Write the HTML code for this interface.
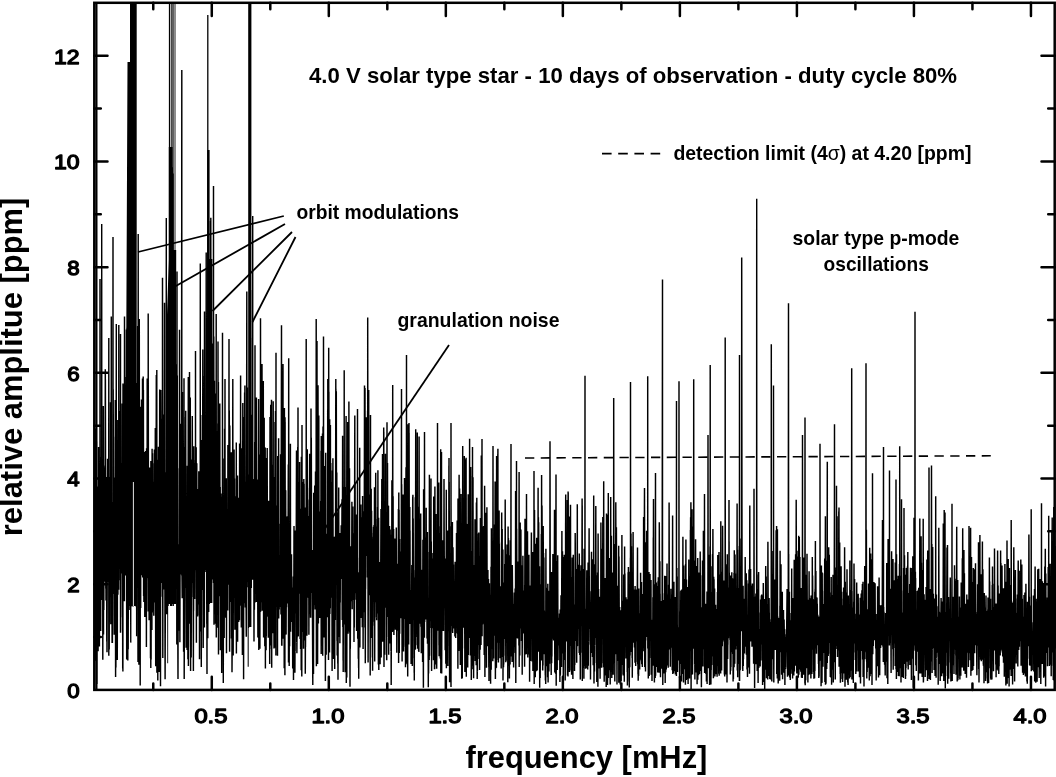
<!DOCTYPE html>
<html lang="en"><head><meta charset="utf-8"><title>Amplitude spectrum - 4.0 V solar type star</title>
<style>
html,body{margin:0;padding:0;background:#fff;}
body{width:1056px;height:777px;overflow:hidden;}
svg{display:block;}
text{font-family:"Liberation Sans",sans-serif;fill:#000;}
.b text{font-weight:bold;}
.tk text{font-size:20.5px;stroke:#000;stroke-width:1.3px;stroke-linejoin:round;}
.ann{font-size:19.3px;}
</style></head><body>
<svg width="1056" height="777" viewBox="0 0 1056 777">
<rect width="1056" height="777" fill="#fff"/>
<defs><clipPath id="cp"><rect x="94.3" y="2.8" width="961.7" height="687.1"/></clipPath></defs>
<g clip-path="url(#cp)" fill="none" stroke="#000">
<path id="spec" d="M94.8 586.2L94.9 539.4L95.1 650.9L95.2 428.4L95.4 610L95.5 506.9L95.7 660.8L95.8 525.1L95.9 582.3L96.1 551.7L96.2 577.8L96.4 441.5L96.6 661.1L96.7 660.2L96.8 684.1L97 605.4L97 607.9L97.2 486.4L97.4 537.2L97.5 512.9L97.6 570.2L97.8 543.5L97.9 591.7L97.9 589.3L98.1 651.2L98.2 518.1L98.3 563.5L98.5 447.1L98.7 582.5L98.8 507L98.9 590.9L99.2 541.4L99.4 646.5L99.7 462.9L100 540.7L100 279L100.3 572.8L100.4 557.1L100.6 599.6L100.6 597.5L100.7 631.1L100.9 485L101.1 548.2L101.2 540.4L101.4 600L101.5 457.2L101.7 559.5L101.7 224L101.8 534.5L101.8 518.4L102.1 551.4L102.4 525.2L102.5 584.8L102.7 483.9L102.8 659.7L103.1 485L103.2 505.6L103.3 405.9L103.5 634.4L103.6 465.5L103.8 609.9L103.9 577.4L104.1 581.6L104.5 578.2L104.5 581.6L104.7 467.4L105 565.4L105.3 369.3L105.4 425.9L105.4 379.6L105.8 588.5L105.9 548.9L106 600.6L106.1 555.2L106.2 559.2L106.4 477.1L106.5 575.2L106.6 571.7L106.8 641.6L106.9 611.6L107 652.2L107.2 578.5L107.4 581.8L107.6 458.8L107.9 577.2L108 546.9L108.1 551.2L108.3 535.3L108.3 541.8L108.5 498.7L108.7 549.4L108.8 338L108.8 655.7L108.9 570.6L109.1 623.5L109.1 621.5L109.2 649.5L109.4 537.7L109.5 559L109.6 523.7L109.8 579.6L110 476.9L110.2 569.8L110.2 566.1L110.3 579.1L110.5 402.2L110.8 624.2L111 461.5L111.2 531.6L111.3 316.5L111.4 578.9L111.5 556.6L111.6 587L111.9 540.7L112.1 643L112.2 641.5L112.4 643L112.6 535.6L112.7 556.7L112.8 502.1L112.9 530L113 237L113.1 593.9L113.2 389.2L113.3 438.2L113.4 436.7L113.5 527.6L113.5 525.1L113.8 569L114 477.4L114.2 634.8L114.3 531L114.5 566.1L114.9 513.6L115.1 626.8L115.3 400L115.5 612.8L115.5 610.4L115.6 677L115.7 585.3L115.9 667.4L116.3 324L116.3 545.6L116.4 486.6L116.6 540.3L116.7 475.2L116.8 639L117 504.3L117.1 596.9L117.2 594.1L117.3 659.9L117.5 517.6L117.6 563.4L117.8 420.1L117.9 594.8L118.1 484L118.2 557.4L118.3 495.8L118.5 588.7L118.6 554.5L118.7 589.8L118.8 325L118.8 543.3L118.9 536.5L119 580.2L119.3 432.8L119.6 561.8L119.7 557.8L119.9 561.8L120 410.9L120.2 568.9L120.3 426.4L120.4 564.9L120.5 334L120.5 632.8L120.6 628.6L120.6 630.3L120.9 515.5L121 531.2L121.2 478.9L121.4 544.1L121.6 463.3L121.7 573.5L121.9 508.5L121.9 540.2L122.1 403.4L122.2 522.9L122.4 432.2L122.5 617.3L122.6 576.4L122.7 668.6L122.8 550.6L122.9 671.6L123 383.5L123.1 580.9L123.3 441.4L123.5 573.7L123.7 533.7L124 594.5L124.1 550.4L124.2 553.5L124.3 474.3L124.4 601.2L124.5 316.5L124.5 559.5L124.8 376.9L125 559.1L125.2 406.5L125.4 575.4L125.5 489.1L125.7 569.6L125.7 565.9L125.9 569.6L126.4 329.6L126.7 659.6L127 450.2L127.2 512.3L127.4 327.8L127.6 532L127.7 507.3L127.8 660.6L128 175.6L128.2 649.2L128.6 440L128.8 516.4L129 419.8L129.1 609.9L129.3 465.4L129.3 487.7L129.5 206.1L129.7 502.3L129.8 468.4L130.1 565.3L130.4 378.2L130.5 539.1L130.6 530.1L130.8 642.6L130.9 641.1L130.9 642.6L131.2 253L131.3 527.5L131.4 177.9L131.6 573.6L131.7 490.9L131.8 498.1L131.9 335.8L132 378.1L132.1 371.6L132.2 427L132.3 209.7L132.6 593.7L132.8 306.8L133 606.4L133.1 486.5L133.3 520.2L133.4 514.9L133.5 520.2L133.9 295.7L134 396.6L134.2 176.4L134.4 528.2L134.4 491L134.6 586L134.7 582.8L134.9 586L135.2 260.8L135.4 546.5L135.5 424.2L135.7 599.9L135.8 528.3L135.9 533.2L136.2 383.1L136.4 636.2L136.5 498.9L136.6 510.3L136.7 428.7L136.9 549.5L137 506L137.2 535.9L137.3 479.1L137.4 584.2L137.6 326.1L138 662.1L138.2 234L138.3 611.7L138.3 609.3L138.4 659.3L138.6 542.4L138.8 646.6L138.9 614L138.9 664.7L139.1 452.3L139.2 544.3L139.3 319L139.5 610.4L139.6 497.8L139.7 651.6L139.8 544.9L140 592.7L140.1 536.8L140.2 685.5L140.3 503.7L140.4 560.3L140.5 479.5L140.7 607.9L140.8 406.8L141 508.5L141.1 414.8L141.3 557.3L141.5 399.6L141.7 575.2L141.9 445.3L142.1 558.9L142.2 539.2L142.3 559.3L142.5 378.5L142.7 577.6L143.1 454.6L143.2 484.7L143.2 376.5L143.3 491.2L143.4 390L143.6 596.1L143.8 575L143.9 602.1L144 562.5L144.3 583.9L144.6 451.9L144.8 616.9L144.9 614.7L145.1 616.9L145.2 611.6L145.3 614L145.6 451L145.8 597.7L145.9 568.7L146 584.9L146.2 455.2L146.4 647L146.6 448.2L146.7 473.5L146.8 472.6L147.1 578L147.2 378.5L147.3 447L147.5 392.7L147.6 459.7L147.7 418.2L147.8 561.6L147.9 537.5L148 578.2L148.1 574L148.2 611.5L148.2 313.5L148.3 445.9L148.3 387.3L148.5 573L148.6 524L148.8 560.3L148.9 536.5L149.1 620.2L149.2 618L149.3 620.2L149.6 467.4L149.7 618L149.8 581.9L150.1 593.5L150.3 564L150.5 658.3L150.7 568.1L150.8 668.1L150.9 461.1L151.1 659.6L151.2 518.9L151.3 553.6L151.4 526.5L151.6 603.8L151.7 595.1L151.9 629.9L152.1 448.8L152.3 612.6L152.5 453.3L152.7 583.1L152.9 579.8L153 583.1L153.4 481.8L153.8 615.8L154.1 463.2L154.2 503.7L154.4 449.6L154.6 558.7L154.8 454.4L155 602.5L155.3 427.9L155.7 666.2L155.9 525.6L156 559.1L156.3 374.9L156.3 417L156.4 394.6L156.5 556.6L156.8 370L156.9 672.8L157.1 556.3L157.2 595.7L157.4 459.8L157.8 680.6L158 464.2L158.2 666.3L158.3 558.9L158.4 562.8L158.5 446.7L158.7 645.7L159 475.5L159.1 672L159.2 486.2L159.4 597.7L159.7 389.5L159.8 585.5L159.9 416.4L160.1 485.5L160.1 468.7L160.3 530.6L160.3 496.2L160.5 686.3L160.6 493.9L160.7 548.6L160.8 390L160.9 417.3L160.9 410.5L161 574L161.2 418.8L161.4 582.9L161.6 443.2L162 558.1L162.3 429.5L162.4 596.8L162.5 277.8L162.6 389.7L162.6 370.2L162.8 658.1L163.1 414.6L163.2 453.2L163.2 446.9L163.4 574.6L163.9 499.9L164.1 589.5L164.2 565.3L164.3 569L164.5 302.8L164.7 584.5L164.8 535.8L165.1 679.3L165.4 583.9L165.4 587L165.7 472.2L165.9 548.3L166.1 506.1L166.2 555L166.3 218L166.3 555L166.4 527.8L166.6 614.3L166.7 552.4L166.8 559.9L166.9 506.4L167 523.6L167.1 407.3L167.3 516.1L167.3 498.5L167.5 572.3L167.7 470.2L167.8 501.1L167.8 487.4L168 663.3L168.3 400.7L168.5 496.5L168.7 426.7L168.9 492.7L169.3 293.3L169.6 517.7L169.7 512.3L169.8 527L170 282.7L170.3 540.1L170.4 443.5L170.5 497.1L170.6 460L170.7 612.4L170.8 436.3L170.9 559L171.1 226.9L171.3 647.5L171.6 300.1L171.9 600.8L172.2 167.3L172.4 391.4L172.5 389.6L172.6 391.5L172.7 348.4L172.9 576.3L173 173.6L173.2 623.9L173.3 297L173.5 451.4L173.6 330.2L173.7 528.4L174.1 250.1L174.2 448.4L174.4 415.6L174.5 464.9L174.8 266.1L175.1 488.2L175.2 459.8L175.3 489.3L175.4 434.8L175.6 534.2L175.7 529.3L175.9 534.2L176 444.5L176.2 509.3L176.6 364.2L176.8 644.4L177 271.5L177 415L177.1 405.5L177.2 446.3L177.3 375.5L177.5 555L177.6 546.9L177.8 637.4L177.8 634.3L178 679.1L178.1 615.5L178.2 617.7L178.4 544.2L178.6 618.4L178.7 618.4L178.8 630.7L179 552.2L179.1 556.3L179.2 468.2L179.4 534.1L179.5 329.7L179.7 570.4L179.8 556.2L179.9 642.3L180.1 534.3L180.2 552.7L180.4 492.2L180.5 531.5L180.8 423.7L181.1 544.5L181.3 450.9L181.5 574.4L181.8 70L181.8 575.6L181.9 565.1L182.2 598.2L182.4 391.9L182.7 545.5L182.8 501.1L182.9 553.3L183.1 532.3L183.2 556.6L183.3 502.3L183.4 549.4L183.5 533.2L183.6 651.8L183.7 513.1L183.9 559.4L184 378.3L184 430.2L184.1 417L184.2 679.1L184.4 615.2L184.4 618.7L184.6 548.2L184.7 587.9L184.8 447L185.2 575.3L185.3 523L185.5 565.4L185.7 410.8L185.9 581.2L186 568.1L186.1 647.7L186.2 627.5L186.2 629.4L186.4 573.6L186.6 645.9L186.7 574.2L186.8 577.7L187 574L187.1 650L187.3 465.8L187.4 569.2L187.5 563.1L187.7 587L187.8 505.1L187.9 659.3L188 523.5L188.1 530L188.3 376.9L188.4 665.9L188.5 586.4L188.6 607.7L188.7 505.4L188.9 586L189 379.8L189.3 618.3L189.3 616L189.4 618.3L189.5 372L189.8 623.8L189.9 533.4L190 585.1L190.2 430.3L190.2 448.3L190.3 397.4L190.5 647.3L190.5 639.3L190.6 671.1L190.7 566.4L190.8 595L191 501.7L191.2 657.6L191.5 538L191.6 572.7L191.8 459.5L191.9 563.1L192.3 416.1L192.7 583.1L192.8 557.6L193 596.9L193.2 594L193.4 671.1L193.5 592.7L193.6 610.8L193.8 446.3L193.9 470.9L194 463.1L194.2 569.4L194.3 502.5L194.7 598.9L194.9 534.3L195 561.7L195.4 460.1L195.5 469.9L195.5 351L195.6 570.3L195.8 553.9L195.8 554.2L195.9 484.1L196.1 562.5L196.2 447.3L196.4 642.8L196.5 540.8L196.6 574.8L196.8 463.3L197 575L197.2 506.4L197.4 616.5L197.5 614.2L197.6 616.5L197.7 612.9L197.8 615.2L198 489.1L198.4 592.1L198.5 566.3L198.6 604.4L198.8 471.2L199 566.3L199.3 491.7L199.5 659.3L199.7 481.1L199.9 582.7L200 517.8L200.2 565.1L200.3 263.5L200.3 464.1L200.4 460.5L200.6 631.5L200.7 414.9L200.9 570.8L201 509.3L201.3 667.1L201.7 478.9L201.9 590L202.1 440.1L202.3 589.5L202.4 554.2L202.6 575.4L202.8 349.4L203 420.8L203 376L203.2 647.9L203.4 483L203.6 592.6L203.7 414.4L204.1 581.6L204.2 406.9L204.4 627.6L204.5 311.4L204.8 562.5L204.9 520L205 563.6L205.2 442.3L205.3 562.4L205.5 476.8L205.8 569.9L205.9 488.1L206 572.1L206.2 252.5L206.4 511.3L206.5 435.3L206.8 623.7L206.9 621.7L207 674L207.1 504.5L207.2 510.1L207.3 470L207.5 595.2L207.7 346.9L207.8 638.3L208 479L208.1 500.5L208.2 491.6L208.3 547.8L208.5 455.1L208.6 525.9L208.8 410.1L208.9 455.7L209.1 427.2L209.3 611.9L209.5 513.7L209.6 519L209.8 400.2L210 464.6L210.2 294.3L210.3 403.6L210.4 220.9L210.7 593.5L210.8 217.7L210.8 427.8L210.9 362.1L211.1 600.8L211.5 412.5L211.6 470.5L211.8 378.7L212 501.4L212.4 396.4L212.5 579.5L212.7 343.4L212.8 548.3L213 391.1L213.1 538.2L213.3 517.1L213.4 582.9L213.5 186L213.5 535.2L213.8 336.5L214 624.8L214.4 380.7L214.6 593.3L214.7 463.8L215 589.2L215.2 542.7L215.4 614.1L215.5 611.8L215.5 623.8L215.7 393.4L215.9 552.6L216 548.4L216.2 625.9L216.2 314L216.3 637.6L216.5 504.3L216.6 605.2L216.8 492.6L217 627.7L217.2 431.5L217.5 599.5L217.8 423.5L218 604.8L218 341.5L218.2 614.2L218.3 423.6L218.3 454.6L218.4 381.9L218.5 654.4L218.6 504.3L218.7 571.5L218.8 520L219 565.9L219.1 507.8L219.2 534.6L219.3 454.2L219.5 546.8L219.6 495.3L219.7 587.9L219.8 403.5L220 596.2L220.2 487L220.4 650.3L220.5 544.5L220.6 607.4L220.7 497.3L220.8 578.4L220.9 493.4L221 566.5L221.2 496.7L221.6 640.2L221.6 638.7L221.7 673L221.8 641.1L221.9 649.2L222 612.5L222.3 621.1L222.4 619L222.4 621.1L222.5 332.8L222.5 611.1L222.6 561.8L222.8 587.5L223 458.4L223.3 683.1L223.4 573.5L223.5 577L223.7 529.7L223.9 589.1L224.1 509.9L224.2 637.9L224.3 566.5L224.4 598.6L224.6 428.7L224.8 609.5L225 379L225.1 599.8L225.5 493.5L225.7 617.7L225.9 615.5L226 617.7L226.3 478.3L226.5 653.3L226.7 509.6L227 562.9L227.1 509.6L227.4 591.1L227.6 588L227.7 610.5L227.9 445L228.1 548.2L228.2 487.7L228.4 576.7L228.6 573.2L228.8 584.7L229 339L229.1 478.4L229.3 410.6L229.6 651.7L229.8 425.4L230.3 601.9L230.4 599.2L230.6 601.9L230.8 480.3L231.1 601.7L231.3 452.2L231.4 638.5L231.6 524L231.7 549.7L231.8 497.7L232 672.2L232.1 657L232.1 658L232.3 465.3L232.5 579.5L232.8 379L233 607L233.1 605.6L233.2 655.4L233.4 503.3L233.5 553.1L233.7 460.9L233.9 585.4L234.1 449.6L234.3 597.4L234.5 478.6L234.6 578.8L234.7 575.4L234.9 629.7L234.9 627.8L235.2 629.7L235.4 562.9L235.6 584.4L235.8 496.2L235.9 617.4L236 517.4L236.1 588.1L236.3 442.6L236.4 653.6L236.6 484.6L236.8 601.7L236.9 523.5L237.2 588.2L237.5 475.6L237.6 641.7L237.8 522.2L237.9 556.3L238.1 514.4L238.3 599L238.5 497.7L238.7 621.9L238.8 561.3L239 602.5L239.1 599.8L239.2 602.5L239.3 543.1L239.4 620.3L239.6 443.5L239.7 598.1L239.9 488.8L240.1 591.1L240.3 553.5L240.4 588.2L240.6 375.4L240.9 605.7L240.9 585.7L241.1 588.8L241.2 531.5L241.3 627.6L241.6 448.2L241.8 606.7L241.9 600.3L242 603L242.1 528.4L242.4 655.1L242.5 583.1L242.6 586.3L242.8 402.9L242.9 545.1L243 541.5L243.1 568.2L243.2 416.9L243.4 589.1L243.5 469.3L243.6 679.3L243.7 517.8L244 603.2L244.2 578.2L244.4 596.2L244.6 392.4L244.7 583.7L244.8 443.3L244.9 457.6L244.9 385.4L245.1 558.4L245.2 553.6L245.3 607.5L245.4 554.4L245.5 567.9L245.7 481.7L245.9 593.8L246 590.8L246.3 636.8L246.8 291.5L246.9 550.5L247 532.5L247.2 580.9L247.2 578.3L247.3 581.6L247.6 387.6L247.9 587.3L248 494.3L248.1 554.7L248.3 524.5L248.4 666.8L248.5 601.6L248.6 604.3L248.9 474.5L249.2 570.5L249.5 532.8L249.6 570.7L249.9 530L250 572L250.5 289.9L250.6 360.7L250.6 337.4L250.7 366.2L250.7 338L250.8 498.5L251 473.9L251.1 541.5L251.2 536.9L251.3 588L251.6 414.7L251.8 561.8L251.9 557.8L252 561.8L252.3 530.6L252.4 569.5L252.5 543.6L252.6 579.8L252.7 216L252.7 535.1L252.8 529.4L253 547L253.4 502.7L253.6 555.8L253.7 479.3L254 641.5L254.3 479L254.4 609.7L254.7 442L254.9 584L255 345.2L255.1 602.4L255.3 531.3L255.4 590.2L255.6 460.8L255.8 561.6L255.9 424.9L256.2 592.5L256.4 397.5L256.6 601.9L256.7 577.7L256.8 590.2L257 479.5L257.2 571.4L257.4 503.2L257.5 578.8L257.6 559.5L257.9 637.4L257.9 630.6L258.1 632.4L258.6 398.9L258.8 650L259.1 603.3L259.2 605.9L259.3 570.4L259.4 600.9L259.7 454.5L259.9 648.7L259.9 587.6L260 600.4L260.2 558.9L260.2 611.9L260.5 318.2L260.8 611.5L260.9 554.6L261.1 600.4L261.2 550.7L261.5 602.3L261.7 520.5L261.9 586.2L262 364L262.2 597.6L262.3 584.4L262.4 610.7L262.5 608.2L262.6 610.7L262.9 458.7L263.1 579L263.3 381L263.6 637.4L263.7 567.7L263.8 571.4L263.9 503.3L264.1 605.5L264.2 417.8L264.4 570L264.5 562.1L264.6 588.7L264.7 549L264.8 646.2L265.2 447.4L265.4 668.4L265.5 563L265.7 593L265.9 536.2L266.1 650.3L266.2 615.3L266.3 636L266.5 458L266.7 602.4L266.8 487.4L267 616.4L267.2 448.1L267.4 605.4L267.5 553.6L267.6 602.3L267.8 578.5L267.9 616.8L268.1 575L268.3 637.8L268.5 500.7L268.6 608.6L268.8 518.4L269 632.7L269.3 586.1L269.4 606.7L269.5 524.5L269.7 664.1L269.8 523.4L269.9 648.9L270 416.9L270.2 645.4L270.2 609.9L270.4 612.3L270.5 442.8L270.6 461.1L270.7 404.8L270.9 612.5L271 497.4L271.1 645L271.3 412.3L271.4 460.1L271.5 399.7L271.7 667.8L271.9 537.3L272 602.7L272.3 464.8L272.4 580.8L272.6 519.5L272.8 633.2L272.9 607.2L273 609.7L273.2 401.3L273.3 606.3L273.5 477.1L273.6 573.5L273.7 478L274 648.5L274.3 487.9L274.6 647.7L274.7 567.3L274.8 618.1L275 422L275.2 635.3L275.2 620.8L275.3 622.9L275.5 411.1L275.9 655.4L276 352.8L276 598.6L276.1 534.3L276.3 606.4L276.4 510.7L276.6 570.4L276.7 534.1L277.1 578.6L277.3 505.6L277.5 655.7L277.7 455.9L278 578L278.2 546.3L278.4 604.2L278.6 438.2L278.7 618.6L278.9 582.3L279.2 609.5L279.6 555.2L279.7 607.1L279.8 558.4L280 580L280 577.6L280.1 592.3L280.2 523.8L280.4 593.5L280.6 454.3L280.7 597L280.8 595.3L281 614.5L281.5 325.2L281.7 645.7L281.8 644.4L281.9 645.7L282.2 544.6L282.4 595.3L282.5 450.3L282.8 574.2L283 364L283.2 638.8L283.3 449.3L283.5 611.9L283.9 495.6L284 583L284.1 579.7L284.2 668.3L284.3 436.1L284.4 461.9L284.4 408L284.6 609.2L284.7 450.7L284.9 675.2L285 417.3L285.1 440L285.1 422.1L285.3 597L285.5 556.5L285.6 585.6L285.7 490.2L285.9 634.6L286 632.9L286.1 634.6L286.4 562.1L286.5 607.3L286.7 517.1L286.8 593.8L286.9 523L287.1 595.5L287.3 516.3L287.5 603.4L287.7 600.7L287.9 603.4L288.3 464.4L288.5 662.6L288.7 358.2L288.8 596.9L288.9 576.8L289.2 665.9L289.3 626.8L289.4 646.4L289.5 645L289.6 646.4L289.9 548L290.1 590.9L290.4 443.8L290.6 631.8L290.8 570L290.9 585.1L290.9 584.1L291.1 601.5L291.2 581.4L291.3 601.4L291.5 554.3L291.8 622L292.1 619.9L292.3 622L292.5 587.6L292.7 668.5L292.8 613.4L292.9 667.3L293.1 589.7L293.2 605.7L293.3 576.4L293.5 680.1L293.7 600.1L293.8 602.8L294 525.9L294.2 578.5L294.4 555.8L294.6 616.1L294.7 544.2L294.9 672.7L295 650.4L295.1 651.6L295.3 530.4L295.5 605.7L295.8 531.2L296 613.4L296.5 450.4L296.7 642L296.8 641.5L296.9 653.2L297 636.1L297.1 637.7L297.2 631.3L297.2 633.1L297.4 498.8L297.5 592L297.7 446.9L297.8 599.3L298 407.5L298.2 636.4L298.2 634.7L298.3 636.4L298.5 482.1L298.6 577L298.8 531.2L298.9 585.7L299.3 499.4L299.5 577.5L299.6 461.9L299.8 593.8L299.9 508.8L300.1 638.9L300.4 512L300.6 649L300.7 529.8L300.9 613.1L301.1 604.8L301.2 670.2L301.4 456.8L301.5 628.5L301.6 626.6L301.8 676.5L302 424.9L302.1 611.9L302.2 496L302.3 615.4L302.5 489.7L302.7 591.7L302.8 482.1L303 538.5L303.1 533.9L303.3 631.9L303.4 612.2L303.5 648.7L303.8 479.1L303.9 613.1L304.1 483.8L304.3 590L304.4 528L304.6 633.7L304.7 631.9L304.8 640.5L304.8 638.9L304.9 640.5L305.1 507.5L305.3 673.7L305.4 642.9L305.5 647.1L305.6 631.1L305.7 632.8L305.8 619.2L305.9 619.7L306 617.5L306.2 619.6L306.2 339L306.3 581.1L306.3 558.7L306.5 589.6L306.8 501.4L306.9 635.8L307.1 462.4L307.2 491.9L307.3 449.3L307.7 597.8L307.9 557.7L308.1 576.5L308.2 531.6L308.4 587L308.4 583.6L308.6 586.8L308.7 515.9L308.9 634.8L309.2 499.6L309.4 573L309.5 487.8L309.6 489L309.7 453.7L309.9 596.3L310 541.1L310.3 614L310.4 611.6L310.5 617.7L310.6 615.5L310.7 617.7L311 408.4L311.1 452.6L311.1 438.7L311.2 489.5L311.3 437.7L311.7 593L312 565.2L312.1 579.7L312.2 560.5L312.8 685.1L312.9 550.1L313.2 603.2L313.3 600.5L313.5 674L313.7 492.8L313.9 583.2L314.1 573.1L314.5 577.8L314.7 485.5L314.9 605.1L315 598.5L315.2 609.6L315.5 471.4L315.7 574.4L315.8 522L315.9 605.8L316 584.5L316.1 587.7L316.2 319L316.4 666.2L316.6 405.2L316.6 439.5L316.7 389.8L317 634.9L317 341L317.1 547.3L317.2 479.5L317.5 653.8L317.5 652.7L317.6 663.9L318 385.2L318.4 623.5L318.5 586L318.6 611.9L318.8 415.4L319.1 585.7L319.3 511.5L319.7 618L319.8 615.8L320 618L320.2 532.6L320.4 592.1L320.7 501.1L320.9 600.3L321 450.7L321.2 654.1L321.3 435.9L321.5 610.7L321.7 565.2L321.9 645.5L321.9 644.2L322 645.5L322.2 475.2L322.3 611.9L322.5 433.5L322.7 655.8L322.8 604.9L322.8 615.7L323 426.5L323.2 565.5L323.3 486.5L323.5 629L323.5 336.5L323.6 598.8L323.7 534.8L323.8 592.5L323.9 548.9L324.1 637.4L324.4 532.7L324.6 634.3L324.9 466.1L325.1 600.7L325.2 519L325.4 681.1L325.7 452.8L326 602.6L326 589.3L326.2 654.7L326.3 557.8L326.4 557.8L326.6 536L326.9 574.7L327 533.8L327.2 613.8L327.3 566.7L327.4 617.2L327.5 594L327.6 596.9L327.7 409.4L327.8 419.8L327.8 378.9L328.1 584.8L328.2 528L328.5 660.1L328.7 347.8L328.8 458.3L328.9 391.7L329 539.9L329.1 511.5L329.2 583.6L329.4 557.7L329.5 652.5L329.7 419.3L329.9 614L330.1 425.1L330.3 608.3L330.4 424.9L330.6 590L330.8 463L331 584.3L331.1 544.4L331.2 570.1L331.3 565.7L331.4 597.7L331.5 481.9L331.6 573.8L331.8 488.7L332 612.9L332 610.5L332.1 671.1L332.4 470.6L332.6 607.8L332.9 458.2L333.2 605.1L333.4 549.7L333.6 658.9L333.8 568.3L333.9 610.5L334 568L334.2 587L334.4 536.8L334.5 631.6L334.6 629.8L334.7 669L334.9 557.4L335 582.4L335.2 536.4L335.4 620.1L335.8 379L335.8 449.1L335.9 388.7L336 516.1L336.3 391.2L336.6 565.6L336.8 472.6L337 640.8L337.1 596.4L337.2 655.5L337.4 512.2L337.5 578.6L337.6 525.6L337.8 663.5L337.9 643.2L338 679.7L338.4 521.4L338.6 555.7L338.7 487.5L338.9 637.1L339 560.8L339.4 602.5L339.7 532.9L339.9 643.3L340 544.2L340.2 602.5L340.4 549.4L340.5 576.5L340.7 562.3L340.9 574.1L341.2 525.2L341.2 532.4L341.3 526.2L341.5 578.9L341.5 557.9L341.7 578.1L342 499.2L342.2 620L342.3 550.8L342.4 555.9L342.6 435.8L342.8 627.1L342.9 487.6L343.1 660.4L343.2 641L343.2 672L343.4 560.6L343.5 616.2L343.6 580L343.7 607.3L343.8 487.1L344 586.5L344.1 535.8L344.2 558.3L344.2 370.2L344.3 624.4L344.5 487L344.7 609.6L345 529L345.1 672.2L345.2 652.2L345.3 653.4L345.5 487L345.7 577.1L345.8 568.6L345.9 601.6L346.1 416.1L346.3 683.1L346.5 560.7L346.8 677.6L347.1 530.9L347.3 631.8L347.4 589.1L347.5 606.3L347.7 422L347.9 557.8L348 543.5L348.1 633.8L348.3 500.1L348.6 631.4L348.7 575.8L348.8 584.8L348.9 401.5L349.1 599.3L349.5 468.3L349.8 632.8L349.9 631L350 686.8L350.2 595.3L350.3 648.7L350.8 546.3L351 586.3L351.1 572.6L351.3 601.3L351.4 588.2L351.6 597.6L351.9 501.7L352.2 609.2L352.4 520.7L352.7 599.9L352.9 506.6L353 581.5L353.2 567.6L353.3 587.8L353.4 533.2L353.6 591.5L353.8 545.9L354 642.1L354 625.6L354.3 627.5L354.8 415.5L354.9 571.4L355.1 484.2L355.3 593.3L355.6 542.3L355.8 574.7L355.9 569.5L356 599.8L356.2 514.6L356.6 631L356.8 564.8L357 623.5L357.1 579L357.2 613.6L357.4 575.9L357.4 585.9L357.5 409L357.5 575.5L357.6 557.7L357.7 638.7L357.8 573.8L357.9 616.1L358.1 572.3L358.3 658.8L358.5 641.7L358.6 668L358.7 664.9L358.7 678.8L358.9 617L359 619.2L359.1 602.3L359.2 604.9L359.3 576.1L359.5 638.7L359.7 447.7L359.9 647.6L360 568.3L360.2 606.3L360.6 548.2L360.8 618.1L360.9 504.5L361.2 578.9L361.4 517.3L361.6 610.5L361.8 539.7L362 607.7L362.1 577.2L362.3 627.3L362.6 496L362.8 614.1L363 570.2L363.1 649L363.3 572.4L363.4 576L363.5 554.4L363.6 570.8L363.7 511.3L363.9 589.2L364.1 519.9L364.2 574.9L364.5 385.4L364.6 612.3L364.8 505.5L364.9 627.6L365 388L365.3 663.2L365.5 585.7L365.6 588.8L365.8 475.7L366.1 552L366.3 417.3L366.5 519.5L366.5 509.3L366.7 556L366.8 540.9L366.9 547.9L367 508.8L367.2 545.4L367.3 477.4L367.4 577.5L367.6 410.7L367.7 439.8L367.7 317.5L368.1 662.4L368.4 558.3L368.6 562.2L368.7 389.9L368.9 582.3L369 579L369.1 595.3L369.4 507.2L369.6 575.9L369.7 550.9L369.8 588.3L370 494.5L370.2 675.5L370.3 514.8L370.4 568.1L370.5 415L370.5 580L370.9 528.8L371 597.7L371.2 488.7L371.3 638L371.6 510.7L371.7 601.3L371.8 536.7L372.1 601.4L372.2 598.2L372.4 657.6L372.5 548.2L372.6 670.8L372.8 553.6L372.9 625.8L373 601.9L373.1 621.7L373.3 532.9L373.4 533.4L373.5 526.7L373.7 575.8L373.8 547.4L373.9 587L374 524.9L374.1 602.1L374.3 563L374.3 571L374.5 487.2L374.7 661.5L374.8 547.4L375.1 602.2L375.2 593.1L375.4 596L375.7 472.7L375.9 584.7L376.1 546.7L376.4 617.6L376.6 615.4L376.6 620.2L376.9 526.4L377.1 613.5L377.4 519L377.5 576.9L377.6 507.1L377.8 610.5L377.9 470.3L378.1 612L378.2 586.9L378.4 664.4L378.6 517.8L378.8 670.1L379 563.4L379.2 647.9L379.3 612.3L379.5 631.1L379.8 562.1L380.1 664.2L380.4 596.7L380.6 599.5L381 509L381.2 657.5L381.4 567.3L381.5 636.7L381.8 479L382 584.6L382.1 546.9L382.2 612.4L382.3 597.5L382.5 600.2L382.5 454L382.6 641.8L382.7 467.1L383.1 610.1L383.3 541.1L383.5 603L383.7 427.5L383.8 491.7L383.8 431.8L384 666.9L384.2 569.8L384.3 647.9L384.4 557.4L384.6 644.4L384.7 592.9L384.8 654.8L384.9 556.9L385 570.4L385.1 515.7L385.2 607.8L385.4 453.8L385.5 602.9L385.8 514.8L386.3 592.4L386.5 532.1L386.7 660.2L386.7 635.8L386.8 637.4L387 422.3L387.2 610.1L387.3 575.2L387.4 617L387.5 463L387.7 552.6L387.8 505.3L388.1 545.3L388.2 531.3L388.4 609.6L388.5 505.7L388.7 654.8L389 544.1L389.1 565.2L389.2 531.5L389.4 635.7L389.5 526.1L389.7 643.5L389.8 614.6L389.9 617.4L390.2 529.6L390.5 621.5L390.8 534.7L391 651.1L391.1 649.9L391.2 685.1L391.5 552.6L391.6 619.2L391.9 480.3L392.2 631.9L392.5 568.1L392.6 631.4L392.7 385L392.9 602.8L393.1 496.3L393.3 624.7L393.6 529.1L393.9 635L394.1 559.1L394.2 589.4L394.4 580.1L394.6 599L394.8 538.4L395 616.1L395.2 542.8L395.4 629.7L395.5 549.4L395.8 593.7L396 567.3L396.1 598.6L396.3 527.4L396.6 613.4L396.7 611.1L396.8 652.8L397.1 574.9L397.2 598.8L397.3 575.6L397.4 605.9L397.6 563.8L398 630.6L398.1 628.7L398.2 630.6L398.4 508.9L398.6 663L398.8 492.6L398.9 637.2L399.1 509.8L399.3 652.9L399.6 539.1L399.7 633.8L399.9 584L400 617.2L400.1 615L400.3 618.2L400.4 616L400.5 618.2L400.5 615.9L400.7 618.1L401 551.5L401.2 597.6L401.5 389L401.5 569L401.7 484.3L402.1 661.5L402.2 556L402.5 617.7L402.7 607.8L402.8 613L403 494.6L403.5 651.4L403.6 582.6L403.7 646.7L403.9 533.7L404.2 618.9L404.3 563.7L404.3 570.4L404.5 478L404.7 615.4L404.8 561.7L404.8 578.4L405 480.5L405.1 574.1L405.2 559.1L405.3 601.7L405.4 595.9L405.5 667.3L405.6 541L405.7 662.7L406 467.2L406.2 572.4L406.3 514.1L406.4 604.6L406.5 355L406.5 494.3L406.6 467.5L406.7 651.5L406.9 545.8L407.1 664.2L407.3 559.5L407.5 589.7L407.6 573.4L407.7 676.6L408 424.3L408.2 541.1L408.3 527.3L408.4 594.7L408.6 445.5L408.7 644.4L408.8 560.5L408.9 610.4L409 422.9L409.1 495.9L409.1 433.1L409.4 615.8L409.6 595.7L409.6 598.5L409.8 507L409.9 575.7L410 530.5L410.2 624L410.3 622L410.4 624L410.5 619.3L410.6 621.5L410.7 600.5L410.8 609.3L411 590.1L411.1 663.9L411.4 599.9L411.5 621.7L411.8 564.9L412.3 666L412.7 496.7L412.8 514.5L412.9 494.7L413 616.5L413.2 518.5L413.4 578.7L413.5 570.1L413.7 593.2L413.8 590.2L414 658.3L414.1 621L414.2 672.7L414.3 672.1L414.3 680.6L414.5 577.4L414.7 633.3L414.9 631.6L415 650.1L415.3 497.2L415.5 649.1L415.7 429.2L415.9 645.3L416.1 555.5L416.2 637.1L416.4 588L416.5 610.9L416.6 511.3L416.8 557.9L416.9 515.7L417.1 580.9L417.3 432.6L417.5 629.7L417.6 543.8L417.7 648.7L417.8 506.8L418 622.8L418.1 610.5L418.2 612.9L418.5 551.1L418.6 650.9L418.8 550.1L418.9 652.1L419.1 436.4L419.3 597.8L419.5 539.6L419.7 607.5L419.8 600.9L419.9 622L420 621.6L420.1 623.6L420.2 540.4L420.4 596.6L420.7 513.4L420.9 626.8L421 617L421.1 619.2L421.2 608.7L421.3 653.3L421.4 569.7L421.5 620.9L421.7 598.3L421.8 625L421.9 619.8L422.2 652.4L422.5 584.3L422.6 662L422.9 539.7L423.4 687.8L423.6 489.3L423.8 545.1L423.9 523.2L424.1 587.3L424.2 580.6L424.4 637.8L424.5 432L424.7 622L424.9 556.8L425 562L425.1 537.5L425.5 614.7L425.8 548.2L426 619.4L426.2 507.8L426.3 604L426.4 586.7L426.7 606.5L426.9 598.8L427 638.6L427.1 548.5L427.3 599.7L427.4 532.1L427.5 643.7L427.7 552.1L427.8 603L428 597.7L428.3 687.2L428.5 602.1L428.6 673.6L428.9 601.9L429 640.4L429.1 607.3L429.2 660L429.4 474.7L429.5 655.8L429.7 581.8L429.8 603.9L430 544.9L430.2 621.2L430.3 597.7L430.3 615.8L430.5 520.3L430.7 605.8L431 478.6L431.1 627.9L431.3 541.6L431.6 670.9L431.7 592.1L431.9 606.6L432 552.9L432.2 628.3L432.3 563.9L432.4 624.1L432.5 559.2L432.6 613.7L432.8 558.5L432.9 572.9L433 568L433.2 606.3L433.3 587.8L433.5 660.2L433.7 496.4L433.9 636.2L434.1 522L434.3 622.2L434.4 620.1L434.5 669.3L434.6 642.8L434.7 669.1L434.9 486.5L435.1 614.1L435.2 611.8L435.3 664.5L435.7 594.8L435.8 615.2L436 514.1L436.2 623.6L436.5 587.6L436.7 668.7L437 599.8L437.1 600.3L437.3 571.1L437.5 602.1L437.5 423L437.6 630.7L437.8 543.5L437.9 607.9L438.1 538.2L438.2 594.7L438.4 562.4L438.6 611.7L438.8 482.5L439 645.3L439.1 643.9L439.1 656.3L439.3 541.2L439.4 607.8L439.5 560.2L439.6 616.4L439.8 533.3L439.9 626L440 604.5L440.1 642.4L440.2 620.5L440.3 658.5L440.4 526.2L440.5 621.3L440.7 449.2L440.8 673.2L441 611.7L441.1 623.8L441.2 606.5L441.3 669.4L441.5 452L441.7 673.6L441.8 625.1L441.9 627L442.1 603.3L442.2 630.9L442.6 540.3L442.8 622.5L442.9 586.5L443 595L443.3 583.5L443.5 631L443.7 563.5L443.8 608.2L444 479L444.4 601L444.7 592.1L444.9 600.9L445 594.7L445.2 650.3L445.3 649.1L445.3 650.3L445.5 558.4L445.8 663.8L446 587.9L446.1 629.6L446.3 489.8L446.4 668.3L446.5 621L446.6 661.4L446.8 546.7L446.9 556.7L446.9 547.5L447.1 659.7L447.4 574.9L447.6 655.3L447.7 530.4L447.9 666.1L448 626.4L448 645.9L448.2 590.5L448.4 631.2L448.7 629.4L448.8 631.2L448.9 465.7L449 491.3L449 458.1L449.1 596.7L449.2 482L449.4 606.6L449.5 526.3L449.6 682.2L449.9 553.7L450.1 624.5L450.2 591.4L450.3 614.7L450.4 572.4L450.7 645.4L450.8 632L451 687L451 423L451.1 631.5L451.1 621.6L451.3 623.6L451.5 561.5L451.6 624.7L451.8 577L451.9 609.4L452.1 558.4L452.2 626.1L452.4 522.1L452.5 621.3L452.6 555L452.7 633.1L453 547.3L453.3 598.8L453.5 564.4L453.7 611.6L453.9 581L454.1 628.5L454.2 626.6L454.3 628.5L454.4 596L454.6 627L454.7 611.4L454.9 636.6L455.1 561.8L455.3 633.6L455.4 586.5L455.7 638.1L455.8 586L456 632.9L456.1 594.4L456.3 627.4L456.5 532.9L456.6 601.4L456.8 598.7L457 622.1L457.2 520.4L457.5 633.8L457.7 599.3L457.9 668.8L458 498.6L458.2 601.1L458.7 543.8L458.8 650.9L459.1 474.7L459.4 603.4L459.6 488.6L459.8 597.3L459.9 528.1L460.1 603.3L460.2 582.3L460.3 665L460.5 531.7L460.9 647.3L461.1 494.1L461.3 601.5L461.5 525.1L461.7 678.8L461.8 641.6L461.9 655L462.1 653.9L462.3 678.2L462.4 583.7L462.5 648.4L462.7 446.1L462.9 614L463 586.5L463.1 601.1L463.3 564.4L463.5 627.7L463.7 503.7L463.9 622.4L464 558.5L464.1 617.4L464.3 456L464.6 618.6L464.7 616.4L464.9 672L464.9 649.8L465 651L465.2 578.3L465.2 612.3L465.4 468.8L465.5 581.4L465.6 459.3L465.8 574.5L465.9 491.2L466 551.8L466.1 457.8L466.3 676.8L466.4 523.8L466.6 644L466.8 524.1L466.9 572.6L467 547.7L467.1 557.5L467.3 526.8L467.6 664.4L467.7 663.6L467.7 667.5L467.9 540.2L468.1 610.2L468.2 494.3L468.4 655L468.5 544.1L468.7 622.7L468.8 601.9L468.9 638.1L469.1 511.5L469.4 614.5L469.6 438.7L469.6 497.7L469.7 477.9L469.9 606.2L470 602.4L470.2 610.5L470.3 608L470.4 655.5L470.5 507.7L470.6 527L470.7 467.1L470.8 492.7L470.8 476L471 600.5L471.1 550.9L471.3 680L471.4 619.1L471.5 628.5L471.7 626.6L471.8 632.6L471.9 607.4L472 669.2L472.1 579.2L472.3 657L472.4 634.4L472.5 665.7L472.5 447L472.6 601.7L472.6 585.8L472.8 624.8L473 477.3L473.2 632L473.3 573.1L473.6 678.3L473.8 568.8L473.9 612.1L474 565.1L474.1 619.1L474.3 594.2L474.5 655.8L474.6 601.4L474.8 606.9L475 519.2L475.2 661.1L475.3 598.1L475.3 605.6L475.5 549.6L475.6 653.4L475.7 567.5L475.9 610L476.1 607.6L476.2 665.3L476.4 502.4L476.6 616.9L476.8 497.8L477.2 678.9L477.3 670.8L477.4 671.2L477.5 565.5L477.7 600.5L477.8 595.4L477.9 659.1L478.4 533.4L478.6 602.3L478.8 532.6L478.9 644.9L479 616.9L479.1 633.7L479.2 632L479.3 635.7L479.4 592.4L479.6 669.9L479.7 555.8L479.9 639.5L480.1 591.2L480.2 649.7L480.4 518.1L480.5 606.9L480.6 577.3L480.7 579.2L480.8 521.5L481 644.9L481.1 616.1L481.2 618.3L481.3 455.4L481.4 500L481.5 480.7L481.8 621.7L482 439L482.1 636.2L482.3 526.9L482.5 624.6L482.6 597.6L483 609.2L483.2 527.1L483.4 597.6L483.6 526.1L483.8 623.7L484 549.3L484.2 654.9L484.3 562.8L484.4 619.2L484.6 485.7L484.9 677.1L485.1 601.9L485.1 605.2L485.3 528.7L485.4 620.3L485.6 512.7L485.7 611.3L485.8 569.9L486 633.9L486.1 623.1L486.2 625.1L486.4 602.9L486.5 667.8L486.6 590.7L486.7 609.7L486.9 507.3L487.2 636.3L487.4 594.7L487.6 646.3L487.7 632L487.7 634.3L487.9 569.9L488 618.1L488.1 603.7L488.3 631.8L488.5 578.9L488.8 667.1L488.9 657.5L489 680.9L489.4 583.2L489.7 644.7L490 615.4L490.1 641.6L490.3 640.1L490.4 662.8L490.5 645.9L490.6 683.8L490.7 594.8L490.9 668.8L491 566.7L491.2 669.7L491.4 528.3L491.7 648.5L491.9 562.6L492 583.4L492.2 555.2L492.4 646.8L492.7 597L492.8 661.3L493 446L493.2 620.7L493.3 590.2L493.6 658.4L493.7 597.9L493.9 627L494 552.9L494.2 620.3L494.3 615L494.4 635.7L494.6 524.5L494.7 608.4L494.9 578.8L495 620.5L495.1 481.5L495.4 678.9L495.6 617.7L495.7 635.7L495.8 601.6L495.9 668.3L496.1 599.5L496.4 667.7L496.6 456L496.8 564.2L497 497.1L497.4 642.8L497.6 503.2L497.7 545.3L497.8 454.1L497.9 510.2L497.9 448.8L498.1 660L498.3 591.5L498.4 662.4L498.5 554.3L498.7 631.8L498.8 623L498.9 643.1L499.1 510.6L499.2 560.1L499.3 543.8L499.6 635.6L499.6 632.2L499.8 640L499.9 638.4L500 658.3L500.2 612.1L500.4 630.9L500.5 629.1L500.6 651.6L500.8 586.3L500.9 640.3L501 587.5L501.2 668.6L501.3 615.3L501.4 646L501.5 542.6L501.6 550.5L501.7 512.6L501.8 562.5L501.9 543.3L502 632.2L502.2 529L502.3 635.6L502.5 627.2L502.6 655.9L502.6 654.2L502.7 657L502.9 549.5L503 680.4L503.3 582.5L503.5 667.3L503.5 638.7L503.7 664.5L503.8 630.2L503.9 655.7L504.1 615.2L504.1 619.1L504.2 599.7L504.4 625.4L504.5 615.7L504.6 638.9L504.7 563.9L505 619.9L505.2 499.4L505.4 627.5L505.6 555.2L505.8 662.3L506 636.9L506.2 660.7L506.4 586L506.5 622.2L506.7 554.3L506.8 581.6L507 544.4L507.1 630L507.2 588.1L507.5 629.4L507.7 613L507.8 682.3L507.9 597.6L508 628.1L508.1 526.4L508.3 666L508.4 538.1L508.7 599L508.9 555.2L509.4 678.6L509.6 610.2L509.7 630.9L509.9 592.2L510.1 664.4L510.3 540.3L510.5 610.9L510.6 600.9L510.8 621.7L511 444L511 611.6L511.2 576.1L511.4 656.6L511.5 606.3L511.7 637.1L511.8 606L511.9 649.1L512 633.9L512.1 662L512.3 564.9L512.8 622.1L512.8 621.3L513 635.6L513.2 618L513.3 629.9L513.4 628.4L513.6 667.4L513.8 642.2L513.9 647.1L514 604L514.2 608.1L514.3 592.5L514.6 610L514.8 607.5L515 621.3L515.1 588.6L515.3 652.7L515.4 605.2L515.5 653L515.6 491L515.8 683.1L516 552.8L516.3 638L516.4 532.5L516.5 549.9L516.5 461L516.6 636.4L516.7 528.8L517 624.6L517.1 622.6L517.2 627.8L517.3 625.9L517.5 638.6L517.8 561.4L518.1 597.3L518.1 590.5L518.3 621.9L518.4 587.2L518.6 612.8L518.8 580.6L518.9 645.6L519.1 471.9L519.2 667L519.3 594.8L519.5 611L519.7 578.7L519.8 655.4L520 557L520.1 626.8L520.2 522.5L520.4 590.9L520.4 589.7L520.5 628.4L520.7 612.5L520.7 619.2L520.9 529.5L521.2 612.9L521.4 567.1L521.5 641.1L521.6 625.4L521.8 637.1L521.9 607.1L522 617.6L522.1 609.4L522.2 674.7L522.4 565.2L522.5 605.9L522.6 593.3L522.7 625.1L522.9 555.7L523.1 617.8L523.2 609.4L523.4 633.5L523.5 605.3L523.5 606.9L523.7 590.6L523.9 624.8L524 614.1L524.1 622.1L524.3 607L524.6 666.7L524.7 584.9L524.8 588.8L525 518.8L525.2 557.7L525.3 546.3L525.4 627.6L525.6 581.9L525.8 654.6L525.9 537.3L526.1 636.2L526.2 619.6L526.3 654L526.5 494.1L526.6 607L526.7 589.2L526.9 626.8L527.1 601.6L527.2 622.5L527.5 531.3L527.8 657.6L528.1 566.6L528.3 615.8L528.3 615.6L528.6 617.8L528.9 554.8L529.1 654.6L529.2 589.8L529.4 619.7L529.5 617.5L529.6 681.8L529.9 585.4L530.1 626L530.2 601.4L530.3 631.3L530.4 629.5L530.5 661L530.7 591.2L530.9 624.2L531.4 532.4L531.7 612.2L531.9 592.1L532.1 661.4L532.3 551.9L532.5 615.6L532.6 572.1L532.9 671.1L533 551.9L533.2 623L533.3 596.1L533.4 662.9L533.5 594.2L533.6 598.6L533.7 596.8L533.9 619.8L534 471L534.2 684.1L534.3 561.3L534.4 563L534.5 510L534.9 636.5L535.2 574.5L535.3 677.3L535.4 622.3L535.6 647.3L535.8 543.7L535.9 590.1L536 566.2L536.2 671.2L536.4 599.4L536.5 643.9L536.7 537.8L536.9 614L537 571.2L537.2 670.6L537.6 595.3L537.9 624.4L538.1 487.8L538.2 615.7L538.4 517.2L538.5 651.7L538.7 522.3L538.9 639.9L539.2 567.5L539.2 568L539.3 566.9L539.4 650.2L539.5 566.3L539.7 687.7L539.8 584.2L539.9 606L540 599.2L540.2 677.9L540.4 622.6L540.5 625.7L540.7 601.8L540.8 610.8L541 584.6L541.1 609.8L541.3 533.9L541.4 660.5L541.6 475L541.8 636.1L542 505.4L542.7 670.4L542.9 556L543 665.6L543.2 526.1L543.4 592.1L543.5 553.1L543.7 654.2L543.9 557.5L544.1 622.5L544.3 610.5L544.6 621.1L544.9 619L545.3 675.2L545.4 674.7L545.4 680.4L545.6 629.1L545.7 684.1L545.9 548.7L546.1 614.5L546.3 587.7L546.5 614.2L546.7 593.5L547 666.2L547.1 598.2L547.3 633.3L547.4 614.8L547.6 677.3L547.8 583.8L548.1 682.5L548.3 626.7L548.5 661.1L548.7 590.8L548.9 671.4L549.1 597.8L549.6 663.8L549.7 652.4L549.8 653.5L550 441.2L550.3 633.7L550.5 585.7L550.7 600L550.7 599.4L550.9 619.7L551 582.9L551.2 675.1L551.4 572.1L551.5 663.3L551.6 662.5L551.7 663.3L551.8 597.6L551.9 656.4L552.1 604.3L552.2 633.8L552.4 584.6L552.6 638.8L552.9 553.9L553.1 621.8L553.3 607.6L553.4 637.7L553.5 635.5L553.6 640.5L553.7 575.7L553.9 629.3L554.1 627.4L554.2 629.3L554.5 509.7L554.8 672.5L555.1 596.6L555.2 613.7L555.3 570.1L555.6 673.7L555.7 657.7L555.8 668.8L556 474.5L556.2 685.7L556.4 610.9L556.5 655.8L556.6 640L556.7 664.8L557 560.9L557.2 669.9L557.3 642L557.4 645.4L557.7 555.3L558 660.2L558.2 631.2L558.3 633L558.5 617.9L558.7 636.5L558.9 617.8L559.1 645.5L559.3 644.1L559.4 645.5L559.5 613.4L559.7 635.3L559.7 633.6L559.9 682L559.9 675.8L560.1 676.3L560.2 609.6L560.4 674.8L560.5 653L560.6 654.1L561 595.2L561.2 634L561.2 632.4L561.5 666.9L561.9 531.1L562.1 653.4L562.2 585.6L562.3 618.6L562.5 551.2L562.7 607.6L562.9 564.2L563 627.6L563.2 606.1L563.3 689L563.5 607.4L563.6 639.5L563.7 557L563.9 636.6L564.1 566.9L564.2 614.5L564.3 554.7L564.5 660L564.7 556.4L565.2 680.5L565.4 566.9L565.5 625.8L565.6 522.7L565.6 533.6L565.7 494.6L565.8 620.4L565.9 603.7L566 635.1L566.2 538.8L566.5 641.4L566.6 591.7L566.8 613.2L567 551.3L567.1 560.3L567.3 500.1L567.3 540.3L567.4 505.2L567.5 675.5L567.8 559.8L568 676.4L568.1 491.5L568.1 501.9L568.2 493L568.5 648.8L568.7 578.8L568.9 659.6L569 526L569.3 668.1L569.4 614.1L569.5 671.9L569.7 516.6L569.9 670.6L570 583.9L570.4 645.9L570.5 504.8L570.7 644.5L570.9 600.7L571 614L571.3 577L571.6 674.7L571.8 602.5L571.9 665.7L572 635.7L572.1 637.3L572.2 557.4L572.3 626.9L572.5 578.3L572.6 615.4L572.7 580.2L572.9 678.9L573 635.4L573.1 637L573.3 554.7L573.5 625L573.6 622.9L573.8 633.1L574 610.6L574.1 623.4L574.2 618.8L574.3 634.9L574.4 633.7L574.5 671L574.7 604.4L574.8 664.9L574.9 615.3L575 623.1L575.2 533L575.4 573L575.4 572.4L575.6 615.1L575.7 582.3L575.9 632.6L576.1 594.6L576.2 641.1L576.4 569L576.7 662.7L576.8 624.2L576.9 646.8L577 630.6L577.1 643.4L577.3 504.2L577.5 646.1L577.7 581.3L577.9 620.8L578 596.5L578.3 619L578.5 610.4L578.6 628.7L578.7 564.7L578.9 619.9L579 611.6L579.2 653.1L579.3 553.4L579.5 635.2L579.6 633.5L579.7 655.1L579.8 613.2L579.9 617.8L580.1 610.2L580.3 679.6L580.6 570.8L580.7 652.8L581 565.2L581.4 626L581.6 624L581.8 626L582.1 498.6L582.2 525.4L582.2 505.6L582.3 681L582.4 577.9L582.6 637.3L582.7 598.8L582.8 621.6L583 569.2L583.2 667.9L583.3 667.2L583.3 667.9L583.6 569.1L583.9 678.7L584.1 548.8L584.3 626.7L584.4 600.8L584.5 666L584.8 548.8L584.9 615.4L585 375.8L585 643.4L585.1 626.4L585.2 641.9L585.4 622.3L585.5 668.7L585.7 620.4L586 643.8L586.1 608.7L586.3 653.7L586.8 570.2L587 668.3L587.1 612L587.3 666.1L587.4 620.2L587.5 649.6L587.6 648.3L587.7 669.5L587.8 630.2L587.9 632L588.1 562.5L588.3 665.8L588.4 636.7L588.5 644.9L588.5 641.5L588.6 641.7L588.7 610.5L588.8 618.7L589.1 528.3L589.4 625L589.7 591.3L590 628.8L590.2 626.9L590.3 644.3L590.4 639.3L590.5 679.6L590.7 602.6L590.8 623.8L591 614.9L591.2 618.5L591.5 551.8L591.8 653.1L592 626.7L592.1 637.7L592.3 559.2L592.5 657L592.6 624L592.7 642.4L593 586.3L593.2 665.3L593.3 599.1L593.6 644.2L593.7 495.5L593.8 603.9L593.8 602.6L594 683.4L594.1 667.8L594.2 668.5L594.4 564.3L594.5 671.6L594.6 643.7L594.7 645.1L594.9 574.4L595.1 638L595.4 616.6L595.5 635.1L595.8 506.1L596.1 637.7L596.2 618.8L596.5 662.9L596.7 635.1L596.8 681.9L597 604.1L597.2 637.2L597.4 575.2L597.5 623.6L597.6 572.4L597.9 686.7L598.1 533.4L598.3 624.3L598.3 620.5L598.5 662.3L598.6 589.1L598.7 668.5L599.1 622.7L599.2 641.5L599.3 634.5L599.4 636.6L599.5 625.5L599.6 639.8L599.8 596.7L600.1 678.8L600.4 602.3L600.7 658.3L600.9 522.5L601.1 628.4L601.1 621.2L601.3 641L601.4 639.4L601.6 667.8L601.8 548.7L601.9 663.2L602.1 552.7L602.3 617.8L602.4 562.4L602.6 638.9L602.8 517.1L602.9 591.9L603.2 565.9L603.5 667.3L603.7 481.2L603.9 626.5L604 614.7L604.2 681.8L604.5 591.6L604.7 675.6L605 578L605.2 674.1L605.3 637.4L605.4 645.3L605.6 593.2L605.8 642.8L606 584.2L606.2 686.9L606.5 513.6L606.6 577.8L606.7 551L606.8 626L606.9 518.2L606.9 545L607 524.4L607.1 545.6L607.2 514.8L607.5 684.9L607.6 660.5L607.7 661.4L608 586.4L608.1 663.5L608.3 493L608.4 677.9L608.6 617.7L608.8 670.3L609 630.8L609.2 652.8L609.6 558L609.8 620.8L610 582.4L610.2 684.4L610.4 620L610.5 651.4L610.7 497L610.9 640L611 622.6L611.2 639.3L611.4 535.8L611.6 671.8L611.7 630.2L611.8 678.1L612.2 572.5L612.6 643.2L612.8 631.3L612.9 649.1L613 621.5L613.2 674.8L613.4 630.4L613.6 662.7L613.7 398L613.9 574.7L614.1 564.8L614.2 638.8L614.4 543.9L614.5 639L614.7 573.1L614.8 681.5L614.9 646.9L615 648.2L615.3 572.1L615.4 645L615.5 643.6L615.6 654.3L615.8 502.3L616 616.9L616.1 575.5L616.2 619.2L616.4 527.3L617 684.5L617.3 600.9L617.4 630.8L617.6 603.4L617.8 629.8L618 585.8L618.2 622.9L618.3 593.2L618.5 661L618.7 545.8L618.8 682.7L619 556.5L619.3 636.4L619.4 634.7L619.5 666.8L619.7 606.9L619.8 662.7L620 628.5L620.2 684.6L620.5 610.2L620.7 656.1L620.8 655.1L620.9 667.8L621 620.6L621.2 681.4L621.3 620.6L621.5 654.7L621.6 630.5L621.7 665L621.9 534.9L622.1 653.3L622.4 602.7L622.6 642L622.8 600.8L623 674.3L623.1 661.3L623.2 675.6L623.4 602.7L623.5 657.1L623.7 574.6L624 625.6L624.1 610.9L624.3 681.7L624.6 546.4L624.7 626.1L624.9 573.5L625.2 640.2L625.4 626.8L625.4 628.5L625.6 605.3L625.9 658.5L626 597.3L626.2 646.5L626.4 601.8L626.5 604.7L626.6 602.7L626.7 632.8L626.9 599.2L627 641.1L627.1 639.6L627.2 672L627.3 621.7L627.4 685.5L627.5 621.9L627.7 645.1L627.8 633L627.9 642.9L628.1 572.2L628.2 645.6L628.4 567L628.5 668L628.6 614.3L628.7 636.5L628.8 612.1L629.1 681.6L629.2 673.5L629.3 687.5L629.5 606L629.6 620L629.7 596L629.8 667.2L629.9 571.7L630.1 655.6L630.4 557.7L630.5 566.7L630.5 382L630.6 635.5L630.7 596.7L630.8 652L631 533.5L631.2 636.6L631.4 546.3L631.6 629.8L631.8 581.5L631.9 637.9L632 616.1L632.1 657.9L632.2 621.8L632.3 677.8L632.4 631.7L632.6 647.5L633.1 531.9L633.3 637.2L633.5 597L633.6 642.8L633.8 589.4L634 641.3L634.3 604.4L634.7 647.6L634.9 621.1L635 662.8L635.1 586L635.3 658.4L635.4 626.6L635.6 661.8L635.6 638.9L635.7 666L635.9 607.5L636 661.9L636.1 633.3L636.2 637.1L636.3 589.4L636.5 635.6L636.6 626.4L636.7 641.4L636.8 635L636.9 636.6L637 631.8L637.1 633.6L637.5 547.4L637.7 664.2L637.9 646.5L638 674.3L638.1 652.3L638.2 680.8L638.3 664.6L638.4 675.9L638.5 629.3L638.6 675.7L638.8 588.4L639 645L639.1 613.3L639.3 639.3L639.4 618.1L639.7 669.5L639.8 640.3L639.9 661.2L640.1 644.4L640.1 650.1L640.3 633L640.4 634.7L640.6 572.8L640.8 635.1L640.9 633.7L640.9 636L641.1 625.7L641.2 659.8L641.5 581.9L641.7 664.2L641.9 619.2L642 629.8L642.2 615.3L642.3 666.9L642.5 595.2L642.6 614.2L642.7 594.1L642.9 648.3L643.1 623.3L643.3 625.3L643.4 596L643.5 600.4L643.6 516.9L643.7 543.9L643.7 524.5L643.9 651.3L644.5 488L644.7 667L644.8 608.9L644.9 639.2L645.1 597.8L645.4 668.4L645.5 665.5L645.5 671.6L645.7 584.4L645.8 640.4L646 542.3L646.1 622.2L646.3 601L646.4 631.4L646.6 530.8L646.8 626.1L646.9 579.8L647 637L647.2 599.1L647.3 625L647.6 591.2L647.7 636.1L647.7 376.2L647.8 648.5L647.9 632L648 643.8L648.1 576.5L648.3 678.6L648.4 612.6L648.5 670.3L648.7 590.3L648.9 628.4L649 572L649.2 675.9L649.4 593.6L649.6 657.9L649.8 596.1L649.9 600.7L650 573.9L650.2 634.8L650.4 605.9L650.7 641.3L651 580.1L651.2 674.7L651.3 648.6L651.4 667.3L651.6 622.4L651.7 641.5L651.8 631.2L652 680.9L652.4 619.7L652.5 656L652.6 619.9L652.7 663.8L652.9 597.3L653.1 665.8L653.1 632.2L653.2 658.9L653.3 537.5L653.4 550.7L653.5 499.1L653.7 659.2L653.8 619.9L653.9 641.6L654.1 584.2L654.4 682.4L654.6 641.6L654.9 660L654.9 659.7L655.2 678L655.5 473L655.6 675.8L655.7 655.5L655.8 656.5L656 613.6L656.2 630.9L656.3 582.5L656.5 636.8L656.6 586.1L656.8 666.9L657 595.1L657.3 648L657.5 622.5L657.7 672.4L658 581.3L658.1 659L658.3 577.3L658.5 644.2L658.6 607.7L658.8 638.9L658.9 635.7L659.1 672.7L659.3 522.2L659.5 595.1L659.6 590L659.7 663.4L659.9 561.2L660 639.4L660.1 593.7L660.2 659.3L660.4 606.1L660.5 677.3L660.6 638.3L660.7 668.5L660.9 600.9L661 624.4L661.1 608.5L661.2 623.4L661.4 611.6L661.7 668.8L661.9 638.1L662.1 643.2L662.5 279.5L662.5 617.5L662.7 593.3L662.8 684.9L663 607.5L663.3 670.4L663.5 601.2L663.6 617.5L663.7 600.1L663.9 642.3L663.9 640.8L664 673.4L664.2 610.5L664.4 658.3L664.7 575.7L665 631.2L665 628.7L665.2 682.9L665.3 622.6L665.5 633.3L665.6 629L665.7 672.2L665.9 576.1L666.1 625.3L666.2 623.3L666.3 669.6L666.4 649.6L666.5 650.8L666.7 594.4L666.8 641.2L667 563.4L667.1 665.5L667.2 611.8L667.4 639.3L667.5 614L667.6 661L667.8 614.6L668.2 667.7L668.4 594.5L668.5 642.8L668.6 584.8L668.8 642.8L668.8 637.2L668.9 638.8L669.1 502.5L669.4 639.2L669.5 604.9L669.6 649.5L669.7 633L669.8 640.2L670 598.7L670.3 666.7L670.7 599.1L670.8 602.7L670.9 588.8L671.1 647.8L671.3 616.8L671.5 626.7L671.6 623.9L671.8 646.9L671.9 602.6L672.2 670.2L672.3 594.6L672.4 614.9L672.6 515.6L672.8 674.1L672.9 621.7L673 630L673.1 625.5L673.2 657.9L673.3 656.9L673.5 673.2L673.9 581.8L674.2 669.2L674.4 614.9L674.6 626.9L674.7 614.3L674.8 671.3L675 596.9L675.4 674.5L675.8 617.4L676 645.3L676.2 606.5L676.4 676L676.5 401L676.5 656.8L676.9 568L677 633.1L677.2 576.6L677.3 668.6L677.4 650.8L677.5 672L677.7 627.3L678 635.1L678.1 630.2L678.3 660.4L678.5 659.5L678.6 660.4L678.8 634.1L678.9 642.6L679 381.2L679 598.5L679.1 591.5L679.3 637.2L679.4 633.1L679.6 677.9L680 611.4L680.2 651.4L680.3 640.5L680.5 659.3L680.8 590.6L680.9 642.5L681 632.6L681.1 663.9L681.3 621.9L681.4 676.3L681.5 676.2L681.5 681.5L681.8 589.4L681.9 645.1L682 608.7L682.2 674.1L682.5 604.7L682.7 636.8L682.9 536.7L683.1 639.4L683.3 607.3L683.5 682.4L683.8 565.5L683.9 667.8L684 625.6L684.1 669.3L684.3 585.1L684.5 629.7L684.8 596.1L684.9 666.9L685.1 578.9L685.4 684.8L685.6 564.1L685.8 646.8L685.9 539.6L686.1 677.2L686.2 658L686.3 680.1L686.5 579.6L686.7 659.2L686.9 606L687 636.7L687.3 597.7L687.5 679.3L687.6 644.8L687.7 661.3L687.8 586.9L688.1 684.1L688.2 631.6L688.4 651.5L688.5 650.3L688.6 657.2L688.8 559.5L689 630.2L689.1 586.6L689.3 676.5L689.4 650.9L689.5 678.5L689.7 593.3L689.8 651.1L690.2 576.5L690.3 638.4L690.4 529.9L690.5 544.3L690.6 517.2L690.7 633.2L690.9 502.3L691.1 688.9L691.3 560L691.5 674.7L691.7 608.6L691.8 625.6L691.9 524L692 540.2L692 509.2L692.2 629.3L692.4 621.3L692.5 674.5L692.7 608.2L692.7 619.1L692.9 526.6L693.3 648.4L693.3 647.3L693.6 648.5L693.7 379.2L693.9 645.7L694.1 607.8L694.3 633L694.5 617.6L694.6 664.5L694.8 663.7L694.9 679.5L695 646.6L695.1 647.9L695.3 560.6L695.4 588.4L695.6 539.2L695.7 668.6L695.9 621.1L696 642.3L696.2 566.1L696.4 672.5L696.8 605.1L697.1 684.2L697.3 623.6L697.4 643.8L697.7 558.1L697.8 679.7L698 575.9L698.2 627.2L698.3 588.3L698.6 675.2L698.8 631.4L698.9 638.4L699.1 572.5L699.5 674.1L699.6 662.8L699.6 666.6L699.8 592L700 623.7L700.2 551.4L700.4 642.7L700.6 575.2L700.7 671L700.9 628.2L701 653.4L701.2 610.6L701.4 687.3L701.8 607.2L702 666.3L702.2 625.4L702.4 647.9L702.5 560.6L702.8 645L702.9 643.6L703 666.5L703.1 605L703.3 628.8L703.4 530.8L703.8 634L703.9 627.2L704 649.3L704.2 629.1L704.3 635.3L704.5 494L704.6 673L704.8 641.6L705.1 650.5L705.2 627.1L705.4 666.7L705.7 603.8L705.9 674L706.1 646.2L706.2 653.4L706.3 639.6L706.4 681.4L706.5 616L706.7 639.4L707 591.6L707.1 684.1L707.3 604.3L707.6 630.2L707.7 627L707.9 647.3L708 435L708.2 668.2L708.4 639.1L708.5 649.9L708.9 554.7L709.1 637.9L709.2 592.1L709.6 684.9L709.7 629.9L709.8 666.7L710 546.4L710.2 644.2L710.2 365L710.3 636.2L710.4 592L710.9 684.5L711.1 658L711.2 669.9L711.6 592.7L711.7 665.1L711.9 566.2L712.1 632.7L712.2 567L712.4 631.3L712.5 554.2L712.7 628.6L712.9 529L713.2 656.5L713.3 650.9L713.4 678.3L713.7 576.7L713.9 596.7L714 579.3L714.2 625.5L714.3 603.6L714.4 655.6L714.6 588.4L714.9 676.4L715 612.9L715.2 646.7L715.3 645.3L715.4 646.7L715.6 604.8L715.8 674.2L715.9 609L716 646.1L716.3 610.9L716.4 672.2L716.6 643L716.7 648L717 646.7L717.1 676.8L717.4 592.1L717.6 665.8L717.8 554.9L718 614L718.1 570.9L718.3 661.3L718.4 623.5L718.7 673.8L718.8 617.6L718.9 618L719 551.9L719.2 675.7L719.3 611.7L719.4 638.5L719.6 574.6L719.7 613.8L719.9 596.2L720.1 666L720.3 576.1L720.4 620.8L720.5 610.5L720.7 673.5L720.8 521.3L721 645.8L721.2 593.7L721.4 639.9L721.5 589.9L721.6 670.6L721.8 610L721.9 613.5L722.1 571.7L722.3 646.3L722.6 525.7L722.9 632.7L723.1 592.8L723.3 640.6L723.5 593.8L723.6 629.5L723.7 580.5L724 641.8L724.2 609.5L724.4 674.6L724.6 589L724.7 676.4L724.8 644.5L725.1 646L725.2 337.5L725.3 644.1L725.4 586.2L725.6 645.2L725.8 564.2L726.1 674.6L726.3 659.6L726.4 671.9L726.5 657.5L726.6 658.4L726.8 611.8L727 682.5L727.3 554.3L727.5 659.1L727.6 658.2L727.7 659.1L727.8 643.4L727.9 644.8L728.1 607.2L728.2 633.9L728.4 609.4L728.5 638.2L728.8 587.5L728.9 629.6L729 500L729 555.2L729.1 541.5L729.2 619.5L729.3 572.8L729.6 631.5L729.8 583.2L730 640L730.1 610.2L730.3 674.5L730.4 575.4L730.7 670.7L730.9 630.4L731 666.9L731.1 640.1L731.2 652.2L731.3 644.5L731.4 645.9L731.5 596L731.7 647L731.8 572.3L732 647.4L732.1 578L732.4 635L732.4 634.7L732.7 654.1L732.9 578.5L733.1 681.4L733.2 627L733.4 678.9L733.7 605.2L733.9 630.9L734 573L734.1 667.2L734.3 550.2L734.4 625.7L734.6 584.7L734.8 663.7L735 554.5L735.2 625.1L735.4 573.5L735.5 649.5L735.6 648.3L735.7 649.5L735.9 594.6L736.1 645.3L736.3 591L736.5 645.8L736.6 588.6L736.8 639L737.1 503.4L737.3 670.4L737.4 549.7L737.7 677.3L737.8 588.1L738 664L738.1 612.8L738.2 662.1L738.3 617.3L738.5 649.5L738.6 622.7L738.6 627.5L738.7 618L738.9 652.4L739.2 545.9L739.4 681L739.5 355L739.6 681.1L739.8 565.9L739.9 633.6L740 603L740.2 670.3L740.3 602.4L740.7 624.1L741.2 538.5L741.4 612.8L741.5 610L741.6 631.2L741.7 257.5L742.1 628.3L742.4 588.2L742.6 668.7L742.7 647.4L742.8 670.9L743.1 585.8L743.3 666.1L743.4 624.3L743.5 659L743.7 598.8L743.8 615.9L743.9 611.6L744 643.9L744.1 608.4L744.3 641.8L744.4 624.4L744.5 653.5L744.7 606.4L744.8 615.2L744.9 604L745 618.2L745.2 556.9L745.5 644.8L745.6 643.4L745.6 646.8L745.8 615.7L745.9 624.8L746 622.4L746.1 640.2L746.3 573.3L746.4 654.8L746.5 630.8L746.6 632.6L746.8 580.3L747 669.6L747.1 641.9L747.3 657.2L747.3 656.2L747.5 677L747.6 617L747.8 649.4L748 614.9L748.1 667L748.5 583.4L748.8 634L749 569.4L749.2 667.9L749.3 604.1L749.5 673.8L749.8 505.4L750 630.2L750.3 596.6L750.5 641.4L750.6 569.1L750.8 637.8L750.9 585.4L751 638.7L751.1 601.8L751.2 629.7L751.4 599.4L751.5 614.2L751.6 603.5L751.7 627.7L751.8 618.9L752 646.7L752.4 583.4L752.6 627.1L752.7 607.5L752.8 645.7L752.9 596.9L753.1 637.4L753.3 619.2L753.6 663.8L753.8 651.2L753.9 652.4L754 488.8L754.2 661.5L754.5 611.8L754.6 688.1L754.8 616.4L755 659.5L755.2 627.7L755.2 633.9L755.4 597L755.5 615.2L755.6 596.4L755.8 601.1L755.9 593.5L756 664.2L756.2 618.4L756.3 664.1L756.5 612.2L756.6 631.7L756.7 198.8L756.8 653L757 574.5L757.2 671.1L757.3 589.2L757.5 651.4L757.6 589.1L757.8 629L758 624.4L758.1 682.9L758.4 626L758.4 634.2L758.6 572L758.8 668.1L758.9 636.5L759 639.2L759 638.7L759.1 646.7L759.3 629L759.4 637.3L759.6 632.9L759.8 646.3L760 645L760.2 666.6L760.3 612.6L760.4 646.7L760.6 599.6L760.8 655.9L760.8 648.7L760.9 660.5L761 637.6L761.1 644.6L761.3 595.5L761.4 639.5L761.7 594.4L761.8 628.4L762.4 595.7L762.6 685.1L762.8 612.1L763 657.7L763.3 583L763.6 682.1L763.7 650.8L763.9 668.8L764.1 610.1L764.2 622.4L764.4 599L764.6 652.5L764.6 651.4L764.7 689.6L764.9 625.9L765 637.3L765 637.2L765.1 640.9L765.2 618.1L765.4 647.9L765.4 646.6L765.5 669.8L765.7 566.1L765.9 629.4L766 596.1L766.1 608.1L766.2 576.6L766.5 678.3L766.7 627.4L766.9 651.4L766.9 650.2L767.1 668.4L767.2 636.2L767.4 642.8L767.5 603.9L767.7 679.6L767.9 541.7L768.4 669.2L768.6 622.3L768.7 661.6L768.9 612.2L769 676.1L769.1 598.1L769.2 613.5L769.3 612.7L769.4 666.5L769.6 619.3L769.8 678.9L769.9 656.1L770 675.2L770.1 665.4L770.2 666.2L770.3 622.1L770.5 679.6L770.7 654.5L770.8 665.1L771 632.5L771.2 662.7L771.3 344.2L771.3 609L771.5 583.2L771.8 681.4L772.2 574.3L772.4 638.7L772.5 613.1L772.6 620.8L772.9 550.9L773 635.7L773.1 619.9L773.2 659.3L773.4 612.4L773.5 619.4L773.5 385.5L773.6 603.3L773.6 600.4L773.8 682.5L774.2 588.2L774.4 640.6L774.7 585.8L774.9 616.2L775 579.6L775.2 649.9L775.4 624.1L775.7 639.2L776.1 530.2L776.4 640.4L776.6 526L776.7 673.9L776.9 583.6L777.1 658.2L777.2 629.3L777.3 678.5L777.4 529.3L777.6 663.1L777.8 616.4L778.2 683.4L778.4 668.9L778.5 669.5L778.7 618.2L778.8 651.1L778.9 649.9L779 679.9L779.1 617.9L779.3 680.6L779.6 629.9L779.7 680.8L779.9 605.7L780 637L780.1 550.8L780.2 635.4L780.4 588.2L780.5 652.2L780.6 620.2L780.7 629.5L781 564.3L781.1 651.3L781.3 637.5L781.4 644.6L781.5 643.2L781.6 674.7L781.8 621L781.9 659.6L782.1 603.7L782.2 623L782.3 591.8L782.6 679.3L782.7 660.2L782.8 665.2L782.9 625L783.1 666.9L783.2 622.9L783.3 624.9L783.5 609.9L783.7 652.7L783.8 642.8L783.9 672.8L784.1 619.4L784.4 645.9L784.7 629.2L784.9 685L785.1 637.3L785.5 669L785.6 667.1L785.7 667.8L786 645.1L786.1 648.9L786.3 634.3L786.5 644.2L787.1 588.9L787.5 676.8L787.6 664L787.7 664.7L788 596.3L788.2 671.6L788.5 303.2L788.6 567.3L788.7 554.1L788.9 675.5L789 631L789.1 638.5L789.4 591.7L789.7 677.5L789.9 612.9L790.3 679.9L790.4 621.2L790.5 638.8L790.7 628L790.8 668.4L791 620.2L791.3 669.5L791.4 659.9L791.5 660.8L791.7 568.6L791.9 673.7L792.1 631.1L792.2 631.8L792.3 622.2L792.4 642.4L792.5 599.1L792.6 678.6L792.8 598.1L792.9 631.3L793 628.5L793.1 646.5L793.2 642.9L793.2 650.6L793.4 612.6L793.6 655.2L793.6 641.2L793.8 675.5L793.9 622.4L794 631.8L794.2 559.8L794.4 671.4L794.5 642.9L794.6 646.6L794.8 587.1L794.9 649L795.1 600.4L795.2 641.4L795.3 580L795.5 665.7L795.6 554.3L796 644L796.2 499.7L796.4 612.1L796.4 610.1L796.6 652.8L796.6 651.7L796.8 673.5L796.8 661.8L796.9 662.7L797.1 620.2L797.2 664.9L797.3 643.8L797.4 645.2L797.7 556.5L797.9 652.4L798 550.8L798.2 677.8L798.4 673.7L798.4 674.2L798.7 535.8L798.9 674.7L799 626.8L799.1 635.8L799.3 537L799.7 630.3L799.9 556.9L800 647.1L800.2 589.4L800.3 669.6L800.4 596.7L800.8 671.8L801 626L801.1 662.6L801.3 588L801.5 677.2L801.5 677.2L801.6 677.5L801.8 632.6L801.8 634.4L802.2 610.8L802.3 677.9L802.5 435L802.6 622.7L802.6 618.3L802.7 651.5L802.9 604.7L803.1 671.3L803.4 588.2L803.6 674.8L803.7 577.7L803.9 661.3L804 557.4L804.3 669.2L804.4 634.5L804.5 656.3L804.6 655.2L804.7 671.3L804.8 649.2L804.9 683.6L805 417.5L805.2 685.3L805.4 650.5L805.5 674.7L805.6 617.1L805.7 680.2L805.9 593.6L806.2 647.1L806.3 574.8L806.6 648.1L806.7 646.8L806.8 668.3L807 553.7L807.3 623.6L807.4 603.9L807.6 663.8L807.8 649.8L807.9 682.6L808 599.8L808.2 675.3L808.4 605.6L808.6 666.5L808.7 657.2L808.8 658.2L808.9 655.1L808.9 656.2L809.1 571.2L809.4 674.5L809.5 662.8L809.6 663.6L809.9 598.3L810.1 662.5L810.2 656.4L810.3 658.9L810.5 657.9L810.6 671L810.7 604.2L810.9 678.4L811.1 595.4L811.3 633.3L811.4 602.1L811.6 640.2L811.6 629.7L811.8 666L811.8 665.3L811.9 673.9L812 595.3L812.2 649.8L812.3 557L812.5 648.7L812.6 575.5L813 636.5L813.2 599L813.3 642.8L813.4 628.9L813.6 672.1L813.7 600.3L813.9 678.7L814.4 602.6L814.6 678.2L814.8 591.7L814.9 671.1L815.1 589.1L815.2 592.4L815.4 541.1L815.5 631.7L815.6 619.7L815.7 648.6L815.9 571L816.1 637.5L816.2 604.8L816.2 607.8L816.3 597.3L816.5 653.7L816.6 598.9L816.7 629.9L817 597.4L817.2 631.9L817.3 603.7L817.4 623L817.5 622.4L817.6 645.3L817.8 614.7L817.9 635.1L818.1 617.9L818.5 663.9L818.6 618.9L818.8 678.1L818.9 616.4L819.1 676.4L819.3 622.6L819.4 648.7L819.6 638.3L819.8 660.8L819.9 650.4L820 651.1L820 443.8L820.1 629.4L820.5 622.8L820.7 658.9L820.8 580.5L821.1 686.3L821.4 565.5L821.6 683.1L821.9 590.5L822 682.8L822.2 572.5L822.3 606.4L822.4 591.1L822.6 663.6L822.9 620.8L823 666.7L823.1 603.9L823.5 630.9L823.6 615.6L823.7 653L823.8 614.1L823.9 636.3L824 632.3L824.1 642.7L824.4 573.3L824.5 640.4L824.7 558.5L824.9 682.1L825 640.1L825 667.7L825.4 516.2L825.5 684.8L825.6 591.4L825.8 666.1L825.8 665.4L826 683.7L826.1 635.8L826.2 643.3L826.5 560.7L826.7 668.9L826.9 566.4L827 631.4L827.3 461.8L827.3 663.1L827.5 603.7L827.7 636.9L827.8 602.9L828.1 655.9L828.1 654.9L828.2 655.9L828.4 613.1L828.5 653.7L828.7 547.3L828.9 633.3L829.1 581.9L829.2 614.1L829.3 554.8L829.5 643L829.8 606.5L830 639.9L830.1 627.9L830.3 676.9L830.6 597.3L830.7 642.2L830.9 592.4L831.1 677.7L831.2 576.9L831.4 667L831.5 638.7L831.6 684.8L831.7 660.5L831.8 661.3L832 602.4L832.1 631.5L832.3 595.1L832.6 669.8L832.8 635.9L832.9 650.9L833 574.8L833.3 682.4L833.5 648L833.8 649.3L833.9 645.8L834 662.2L834.1 591.4L834.2 593.6L834.4 519.5L834.4 533.8L834.5 424.2L834.6 632.5L834.8 584.1L834.8 593.4L835 567.5L835.1 646L835.2 644.7L835.3 679.5L835.4 570L835.6 634.6L836.1 595.1L836.2 646L836.4 626.5L836.5 628.6L836.5 485.8L836.6 627.4L836.7 546.5L836.9 648.9L837.1 516.3L837.3 629.8L837.4 587.5L837.5 657.1L837.7 622L838 650.4L838.2 594.8L838.6 637.9L838.8 511.6L838.9 538.5L839 507.5L839.1 666.8L839.2 638.5L839.3 646.2L839.4 619.8L839.5 656.6L839.7 542.5L839.9 648.8L840 603.7L840.2 674.1L840.3 622.6L840.4 682.7L840.6 592L840.7 639.1L840.8 595.6L840.9 633.7L841.1 566.3L841.4 648.8L841.5 647.5L841.5 648.8L841.7 591.8L841.9 673.2L842 638.8L842.1 679L842.3 605.3L842.6 681.9L842.7 670.3L842.8 678.6L842.9 651.9L843 655.8L843.1 644.6L843.2 650.8L843.4 598.8L843.5 605.7L843.6 587.4L843.8 651.8L843.9 639.3L844.1 673.4L844.2 648.8L844.3 672.8L844.6 547.2L845 686.7L845.1 671.7L845.1 676.6L845.3 581.8L845.5 639.9L845.6 631.8L845.7 678.8L846 592.6L846.2 676.9L846.3 630.7L846.5 679.7L846.7 599.1L846.9 631.6L847 569.2L847.3 650.9L847.4 629.9L847.7 682.5L847.9 637.1L848.1 685.1L848.3 595.4L848.5 664.7L848.6 635.7L848.7 672.2L848.8 657.1L848.9 660.8L849.1 627.7L849.2 673.7L849.4 609L849.6 678.5L849.9 560.5L850.1 668.1L850.1 656.2L850.2 677.1L850.3 619.8L850.6 652.3L850.7 636.6L850.8 667.8L851 589.9L851.2 655L851.3 642.8L851.5 670.7L851.7 368.2L851.9 679.6L852 591.1L852.2 617.2L852.3 609.7L852.5 679.3L852.6 662.6L852.8 663.4L852.9 655.4L853 657.7L853.2 607.5L853.3 682.9L853.4 623.1L853.6 652.5L853.7 601.8L853.8 632.4L854 563.5L854.2 640.1L854.3 617.6L854.4 643.6L854.6 579L854.7 630.1L854.9 619.9L855 639.5L855.1 613.7L855.3 660L855.4 641.3L855.5 642.8L855.7 637.8L855.8 673.9L855.9 629L856.1 670.2L856.3 631L856.5 650.2L856.7 582.5L856.9 671.4L857 620.8L857.2 643.9L857.3 635.6L857.4 637.5L857.6 623.1L857.7 650.5L857.9 619.6L858 640.3L858.2 593.7L858.6 671.4L859 621.2L859.2 631.8L859.4 630L859.5 677.3L859.7 614.5L859.9 656.6L860.2 597.7L860.4 673.2L860.4 670.6L860.5 683.4L860.9 609.5L861 631L861.2 593.4L861.5 649.6L861.6 626.6L861.7 648L861.9 590.3L862.1 651.1L862.4 583.9L862.6 659.4L862.7 621.9L862.8 625L863 581.8L863.1 677.1L863.2 650.8L863.4 672.2L863.4 671.1L863.5 675L863.7 600.6L864 686.6L864.1 646L864.3 647.3L864.5 628.4L864.5 630.5L864.7 566.1L864.9 659.3L865 583.5L865.1 652.2L865.4 569L865.5 650.6L865.7 594.4L865.7 618.1L865.9 559.9L865.9 569.8L866 363.2L866.1 643.7L866.4 529.8L866.6 661.6L866.7 619.1L866.8 678.4L867 617.1L867.2 672L867.5 617.2L867.5 617.8L867.7 609.2L867.9 636.5L868 625.9L868.3 667.8L868.5 583.5L868.7 644.8L868.8 606L869 646.9L869 646.4L869.3 680.6L869.7 547.8L870.1 676.3L870.2 644.6L870.3 651.9L870.4 640.8L870.5 659.4L870.7 553.6L870.8 673.9L871 632.9L871.2 649.5L871.3 631.8L871.4 633.6L871.6 559.3L871.7 655.2L871.9 618.6L872 684.9L872.1 637.9L872.2 639.5L872.4 582.2L872.5 582.5L872.5 473.2L872.6 637.9L872.7 636.2L872.8 654.2L873 601.6L873.3 646L873.4 637.1L873.6 638.7L873.9 581.9L874 631.1L874.3 583.1L874.6 640.3L874.8 614.9L875 636.9L875.1 583.3L875.3 638.3L875.4 616.2L875.7 648.5L876 614.1L876.2 680.4L876.5 630.6L876.7 645L876.9 625.6L877.2 666.3L877.3 639.5L877.4 649.4L877.6 586.2L877.7 643.6L877.8 642.2L877.9 643.6L878 589.1L878.2 664.7L878.3 592L878.5 677.4L878.7 623.9L878.8 663.7L879.1 577.6L879.3 654L879.4 635.6L879.5 638.9L879.5 634.3L879.7 675.2L880 618.9L880.1 629.7L880.3 605.2L880.3 608.5L880.4 606.2L880.6 648.1L880.7 631.9L880.9 633.6L881.1 609.3L881.3 643L881.4 641.5L881.6 645.3L881.8 605.1L882.2 629.3L882.5 520L882.9 646.6L882.9 645.2L883.1 646.6L883.2 611.3L883.3 662.1L883.5 447L883.5 638.5L883.7 607.1L883.8 641.9L884 611.7L884.1 631.5L884.2 628.3L884.6 664.7L884.7 653.8L884.8 654.6L884.9 647.1L885.2 675.4L885.6 613.1L885.8 645.4L886.1 621.8L886.3 644L886.4 618.8L886.5 661.8L886.7 563.1L887 678.3L887.1 646.7L887.3 647.9L887.6 583.1L887.8 684L888.1 539.1L888.3 623.7L888.4 589.1L888.6 633.8L888.7 599.9L889.1 635.7L889.3 601.9L889.4 645.5L889.5 470.5L889.5 610.8L889.6 593L889.7 633L890.1 588.7L890.3 643.2L890.7 595.8L890.9 636.1L890.9 633.6L891.1 673L891.2 630.6L891.3 633.2L891.6 551.2L891.8 625.6L892 562.1L892.8 649.3L893 558.9L893.2 669.8L893.5 603.5L893.6 647.9L894 591L894.1 638.5L894.3 607.1L894.4 621.2L894.5 580.3L894.7 641.4L894.8 597L895 643.6L895.1 598.5L895.2 665.9L895.3 562.4L895.5 659.9L895.6 608.8L895.7 612.2L895.8 596.7L895.9 629L896 479.5L896 669.2L896.2 602.4L896.4 679.1L896.5 554.2L896.7 604.9L896.8 579L896.9 647.3L897 585.5L897.1 604.5L897.2 594.7L897.4 672L897.5 612.2L897.7 665.2L897.7 655.3L897.8 656.3L898 626.8L898 631.4L898.2 575.8L898.4 676.1L898.6 597.6L898.8 619.1L899 576.5L899.2 676.2L899.5 564.1L899.7 654.5L899.7 446.2L899.8 645.9L900 575.7L900.2 640.3L900.5 613.3L900.6 668.3L900.8 621.3L901 682.5L901.1 653.7L901.2 659.3L901.5 499.3L901.7 655.7L901.8 590.6L901.9 634.8L902.1 612.5L902.5 676.9L902.7 616.2L902.8 647.7L902.9 630.5L903.1 653.6L903.2 652.5L903.4 677.9L903.6 567.9L903.8 663.3L903.9 622.9L904 645.7L904 508L904.1 664L904.1 652.2L904.2 653.4L904.5 555.3L904.7 639.9L904.8 581.6L905 648.4L905.2 574.9L905.5 678.9L905.6 663.8L905.7 676L905.9 584.4L906 668.1L906.1 574.5L906.3 629.7L906.4 568.1L906.6 661.8L906.8 629.5L907 650.1L907.4 566.6L907.6 613.6L907.8 552L908 666.2L908.1 613.5L908.2 669.4L908.4 631.3L908.5 650.6L908.7 593.1L908.9 641.4L909.1 629.8L909.2 660.6L909.4 650L909.4 651.6L909.7 584L909.9 664.9L910.2 587.7L910.3 592.8L910.5 567.8L910.7 643.5L911 572L911.4 679.9L911.5 653.4L911.6 654.5L911.8 609.4L911.9 619.7L912 568L912.2 658.8L912.3 601.9L912.6 650.7L912.8 556.3L913 631.1L913.1 566.8L913.3 687.7L913.4 668.4L913.4 669L913.6 579.6L913.8 629.3L914 517.7L914.2 610.7L914.3 586.1L914.4 604L914.5 602.9L914.6 643.3L914.8 590.7L914.9 645.5L915 311.8L915.1 648.8L915.1 647.5L915.2 650.7L915.4 571.7L915.5 610.5L915.6 578L915.8 665.3L916 610.3L916.3 671L916.5 615.4L916.8 641.1L917 639.5L917.1 645.1L917.2 591L917.4 651.8L917.6 599.5L917.8 651.5L917.8 649.2L918 650.4L918.2 589.7L918.4 680.5L918.7 587.8L918.9 666.8L919 650.2L919.1 651.4L919.3 645.9L919.5 673.6L919.5 672.5L919.6 673.1L919.8 518.6L919.9 629.5L920.1 615.7L920.2 653L920.3 636.4L920.4 658.9L920.5 589.5L920.6 664L920.7 635.7L920.9 673.4L921.1 536.2L921.3 630.8L921.4 562.7L921.6 595.6L921.7 570L921.9 671.2L922 651.9L922.2 676.9L922.3 651.8L922.5 667.6L922.7 618.1L922.9 670.6L923.2 518.7L923.4 682.4L923.5 674.4L923.5 680.5L923.9 598.6L924 641.3L924.1 594.3L924.3 651.8L924.6 599.7L924.9 640.4L925 634.3L925.2 677.1L925.3 660.5L925.4 661.4L925.5 658.6L925.6 659.5L925.8 652.1L925.9 653.3L926.1 587.1L926.2 653.3L926.4 617.3L926.5 670.2L926.7 621L926.8 637.6L926.9 559.4L927.3 652L927.4 630.9L927.5 681L927.7 550.4L927.9 630.6L928 626.5L928.1 638.1L928.3 605.7L928.6 675.6L928.7 599.7L929 651.8L929 467.5L929.1 679.1L929.3 591.5L929.5 646.4L929.6 614.9L929.7 646L929.9 588.9L930.4 680L930.5 658.1L930.6 659L930.7 612.4L930.8 620.9L930.9 618.9L931 661.5L931.2 627L931.2 629.4L931.5 465.5L931.7 634.3L931.9 543.9L932.1 673L932.2 648.5L932.3 649.6L932.7 546.9L932.9 631.5L933 618.1L933.2 648.2L933.4 593.7L933.7 635.1L933.9 601.2L934.1 669.9L934.2 612.9L934.4 644.8L934.7 598.4L934.8 657.9L934.9 656.9L935.1 676L935.2 631.5L935.3 634.1L935.4 632.4L935.6 648.7L935.7 496.2L935.8 636.5L935.9 600.1L936.1 677.7L936.1 657.1L936.2 658.1L936.4 594.4L936.8 631.2L937 606.2L937.1 652.7L937.2 619.5L937.4 648.7L937.5 616.7L937.7 645.4L937.8 617.4L938 656.8L938.1 623.1L938.2 684.8L938.3 629.6L938.4 662.6L938.5 639L938.6 658.7L938.8 527.7L939 629.5L939.1 618.3L939.2 638.8L939.3 611.8L939.4 647.5L939.5 612.5L939.7 663.9L939.8 643.8L939.9 660.1L940 653.9L940.2 681L940.4 625.8L940.5 631.5L940.6 620.6L940.7 632.6L941.1 598.1L941.4 647.9L941.5 625.6L941.7 676.3L942 606.2L942.2 673.5L942.4 601.6L942.6 641.4L942.7 636.7L942.9 672.7L943 630.5L943.1 642.3L943.3 523.5L943.5 621.8L943.6 619.4L943.8 681L944 578.9L944.1 632.3L944.2 510.1L944.6 672L944.7 621.2L944.7 623.8L944.9 593.7L944.9 598.4L945 512.5L945.3 688.4L945.5 643.2L945.6 675.9L945.7 650.1L945.8 650.5L945.9 631.6L946 665.7L946.2 612.1L946.4 652.7L946.5 632.4L946.6 639.7L947 547.5L947.2 631.7L947.2 618.4L947.3 627.8L947.5 544.9L947.7 683.7L947.8 624.7L947.9 669.9L948 632.7L948.2 665.4L948.5 597L948.7 678.7L948.9 639.5L949 662.6L949.2 634.5L949.3 641.3L949.6 617.4L949.7 640.7L950.3 577.6L950.5 635.3L950.6 622.3L950.7 673.2L950.8 672.7L950.9 681.4L951 637.1L951.1 642.2L951.4 618.5L951.6 638.7L951.7 637.1L951.8 675.7L951.9 636.3L951.9 645.7L952 503.8L952 643.6L952.1 619L952.2 681L952.4 597.2L952.5 636.9L952.7 622.1L952.7 625.5L952.9 610L953.1 664.4L953.2 647.6L953.3 665.3L953.5 596.7L953.8 661.7L953.8 657.1L954 674L954.1 652.8L954.2 654L954.5 565.2L954.7 649.6L954.8 596L955 633.7L955.2 604L955.3 648.3L955.4 580.9L955.6 634.7L955.7 595.8L955.8 655.6L955.9 651.6L956 674.8L956.1 578.8L956.3 671L956.7 526.7L957 672.5L957.1 639.1L957.2 681.5L957.4 602.4L957.5 611.4L957.7 580.1L957.9 680.2L958 636.7L958.1 678.3L958.3 616.8L958.6 648.4L959 647.1L959.2 648.4L959.4 596.5L959.7 675.8L959.8 665.9L959.9 679.5L960.2 607.4L960.4 651.9L960.6 644.6L960.8 675.8L960.9 642.8L961 657.9L961.2 582.4L961.5 638.2L961.6 621.6L961.7 640.4L961.9 630.1L961.9 637.8L962.1 595.1L962.2 667.5L962.3 558.2L962.5 624.9L962.7 528.2L962.9 638.7L963.1 562.5L963.3 647.1L963.4 617.1L963.6 656.8L963.6 655.7L963.7 670.8L963.9 550L964.2 643.5L964.4 573.3L964.6 649.9L964.7 616.8L964.9 648.5L965 643.3L965.2 674L965.5 603.8L965.8 665.8L966.2 610.8L966.5 677.7L966.6 652.2L966.6 668.6L966.8 594.4L966.9 642.6L967.1 617.6L967.2 652.6L967.3 651.4L967.4 652.6L967.7 628.9L967.8 633.1L967.9 599.6L968.1 637.8L968.3 622.5L968.4 667.1L968.5 627.7L968.6 639.4L968.8 615.3L968.9 647.5L969 526L969.1 653.3L969.3 556.4L969.4 623.6L969.5 562.5L969.6 649L969.8 591.6L969.9 634.4L970 610.6L970.1 660.3L970.6 527.8L970.9 675.7L971 617.5L971.1 656L971.3 631.2L971.3 637.1L971.5 557L971.7 637.3L971.8 581.9L971.9 671.1L972.1 626.9L972.2 641.3L972.4 603.7L972.5 648L972.7 588.7L972.9 669.9L973 598.3L973.1 665.2L973.3 567.9L973.5 665.9L973.7 581.1L973.9 652.2L974 614.1L974.1 623.6L974.3 574.8L974.4 620.6L974.5 569.2L974.7 653.2L974.9 589.7L975.1 645.2L975.2 643.8L975.3 645.2L975.5 563.3L975.7 606.5L975.7 603.9L975.9 632.8L976 623L976.3 640.4L976.5 614L976.8 669.4L976.8 668.8L976.9 675.3L977.3 611.9L977.5 643.4L977.6 584.2L977.9 645.2L978 621.4L978.2 645.7L978.5 542.3L978.7 669L978.9 625.2L979 682.6L979.2 624.9L979.3 635.8L979.4 634.2L979.5 656.7L979.6 591.1L979.7 653.4L979.9 535.1L980.1 626.4L980.4 598.9L980.6 659.8L980.6 658.9L980.7 659.2L980.9 574.3L981.1 635.1L981.1 628.9L981.3 661.3L981.5 616.1L981.6 630.4L981.7 618.1L981.8 629.9L981.9 625.6L982.1 638.5L982.4 541.5L982.5 659.7L982.6 614.6L982.8 644.5L982.9 569.3L983.3 664L983.4 663.2L983.4 665.7L983.7 605.8L984 683.3L984.3 593.1L984.5 636.3L984.8 607.6L984.9 634.1L985.1 609.9L985.3 631.7L985.5 628.7L985.6 680.9L985.8 617.4L985.8 619.9L986 595.5L986.2 659.4L986.2 658.5L986.3 659.4L986.4 643.2L986.6 672.2L986.8 610.9L987 640.5L987 639.7L987.1 641.2L987.3 628.1L987.4 678.4L987.5 668.3L987.6 683.6L987.8 609.5L987.9 634L988 597.4L988.4 644.8L988.5 624.1L988.6 683L988.8 612.1L989.1 668.3L989.4 557.5L989.6 606.6L989.7 581.6L989.9 627.3L990 623.9L990.1 625.5L990.2 622.8L990.4 647.8L990.5 598.7L990.7 678.6L990.8 654.9L990.9 660L990.9 658.8L991 679.8L991.3 610.1L991.5 643.6L991.6 642.2L991.9 679.6L992.2 585L992.3 641L992.5 566.6L992.6 645.1L992.8 583.8L992.9 634.2L993 620.1L993.2 641.4L993.3 639.9L993.5 671.3L993.7 607.1L993.8 631.5L994 617.3L994.1 646L994.2 635.7L994.3 650.4L994.5 548.6L994.8 634.3L995 628.1L995.1 632.6L995.3 613.1L995.4 650.1L995.6 603.6L995.8 664.4L996 606.7L996.1 677.2L996.3 603.4L996.4 668.5L996.6 613.5L996.7 648.1L996.9 603.6L997.1 649L997.1 642.6L997.3 669.8L997.6 550.6L997.9 639.8L998.1 585.4L998.2 670.8L998.4 613.1L998.5 640.5L998.6 614.5L998.8 674L998.9 651.3L999.1 666.3L999.4 593.4L999.5 631L999.6 609.8L999.8 649.5L999.9 626.7L1000 632.8L1000.1 610.2L1000.2 655.4L1000.4 596.7L1000.5 604.1L1000.6 550.6L1000.8 650.5L1000.9 563L1001.1 641.3L1001.2 627.7L1001.3 648.8L1001.4 627.2L1001.5 632.8L1001.7 566L1001.8 648.7L1002 565.5L1002.3 652.6L1002.4 629.9L1002.5 642.6L1002.6 636.8L1002.7 656.5L1003 625.6L1003.2 651.3L1003.3 588.3L1003.5 662.7L1003.6 627.6L1003.9 657.6L1004.2 588.3L1004.3 676.8L1004.4 605.4L1004.6 644.1L1004.7 616L1004.7 630.4L1004.9 564.1L1005.1 633.9L1005.3 599.9L1005.4 647.7L1005.6 581.8L1005.8 679.6L1005.8 677.4L1005.9 685.5L1006 673.8L1006 677.9L1006.2 651.3L1006.3 652.4L1006.4 648.6L1006.5 649.8L1006.8 645.2L1006.9 646.5L1007 540.4L1007.2 683.8L1007.3 575L1007.6 656.1L1007.7 655.1L1007.9 656.1L1008.2 558.9L1008.4 654L1008.4 635.7L1008.6 678L1008.9 573.3L1009.1 686.4L1009.4 567.9L1009.6 669.7L1009.8 586.6L1010 645.3L1010.1 609.7L1010.2 655.9L1010.4 622.8L1010.5 668.8L1010.7 585L1010.8 656.6L1011 610.6L1011.1 676L1011.2 520L1011.4 637.1L1011.6 618.2L1011.8 637.8L1011.9 636.3L1012.1 646.8L1012.3 602.8L1012.4 632.6L1012.4 631.6L1012.6 684.5L1012.7 621.6L1012.9 652.7L1013 609.7L1013.1 669.1L1013.3 601.5L1013.5 659.7L1013.8 547.3L1014.1 643.7L1014.2 614.4L1014.4 653.5L1014.5 647.7L1014.6 681.5L1014.7 660.8L1014.7 661.5L1014.9 585.8L1015.1 638.4L1015.4 569.9L1015.6 619.7L1015.7 598.6L1015.9 657L1016.1 622.9L1016.2 663.6L1016.3 613L1016.5 647.9L1016.6 629.4L1016.7 640.8L1016.9 639.2L1017 650.6L1017.1 625.6L1017.2 650.8L1017.4 594.4L1017.6 654.7L1017.7 647.7L1017.8 666.6L1018.2 560.5L1018.7 650.1L1018.9 608.5L1019 622.1L1019.2 570.8L1019.4 646.8L1019.7 595L1019.9 633.6L1020 612L1020.1 631.2L1020.2 580L1020.5 641.3L1020.8 559.4L1021.1 665.7L1021.5 634.5L1021.6 651.1L1021.8 564.4L1022 663.5L1022.3 598.8L1022.5 666.4L1022.5 665.7L1022.6 672.7L1022.7 667.6L1022.8 668.3L1022.9 637.5L1023.1 654.9L1023.2 617.5L1023.4 675L1023.6 616.7L1023.8 644.6L1024 595L1024.2 650.3L1024.3 604.8L1024.4 673.5L1024.5 642.8L1024.6 643.5L1024.7 603.3L1024.8 644.5L1024.9 592.6L1025.1 657.6L1025.2 620.7L1025.4 676.4L1025.6 609.1L1025.7 650.4L1025.9 583.7L1026.2 647.5L1026.3 627.3L1026.5 645.7L1026.6 644.4L1026.9 681.5L1027 643.2L1027.2 681.3L1027.3 665.5L1027.3 683.8L1027.5 601.8L1027.6 658.8L1027.8 605.2L1028.1 632L1028.3 623.1L1028.4 646.3L1028.6 603.4L1028.7 622.8L1028.9 534.4L1029.2 633.5L1029.4 596.8L1029.6 664.9L1029.8 605.5L1030 665.7L1030.2 631.8L1030.3 647.3L1030.4 642.3L1030.6 657.1L1030.7 644L1030.7 647.2L1030.9 635.1L1031 658.7L1031.1 635.9L1031.2 637.6L1031.2 509.2L1031.3 671.2L1031.5 634.7L1031.7 655.8L1031.8 637.8L1031.9 657.9L1032 643.9L1032.2 670.2L1032.3 631.9L1032.6 640.4L1032.9 622.2L1033.1 643.2L1033.2 638.1L1033.2 645L1033.4 595.6L1033.6 653.9L1033.7 652.8L1033.8 671.5L1034 615.7L1034.3 652.9L1034.5 588.9L1034.7 681.6L1034.8 623.2L1034.9 637.5L1035.1 566.4L1035.3 640.7L1035.5 635.5L1035.5 636.6L1035.7 602.1L1035.8 682.8L1036.1 598.7L1036.3 641.4L1036.4 601.6L1036.5 670.1L1036.7 603L1036.9 653.5L1037 650.8L1037.1 681.7L1037.2 661.7L1037.2 661.8L1037.4 622.6L1037.5 626.7L1037.8 569.3L1038.2 667.3L1038.4 595.9L1038.5 607.3L1038.7 568.8L1038.9 641.5L1039 630.1L1039.2 677.9L1039.5 634.6L1039.9 645.4L1040.2 578.9L1040.4 586.7L1040.5 586.6L1040.8 683.9L1041 634.2L1041.2 641L1041.4 633.7L1041.4 643.5L1041.5 503.2L1041.5 656.8L1041.6 654.3L1041.7 654.5L1041.8 610.2L1042 644.8L1042.1 636.9L1042.2 664L1042.4 581.2L1042.6 636.6L1042.7 636.1L1042.8 637.7L1043 587.7L1043.1 640.7L1043.2 623.4L1043.4 647.2L1043.5 582.9L1043.7 677.8L1043.8 602.8L1044 638.5L1044 634.9L1044.3 676.4L1044.5 614.6L1044.5 618.7L1044.8 566.5L1045 639.1L1045.3 548.7L1045.6 686.6L1045.8 573.5L1046.1 642.6L1046.3 641.1L1046.4 642.6L1046.6 610.1L1046.7 641.2L1046.8 620.9L1047 653.1L1047.4 597.4L1047.5 666.2L1047.7 624.1L1047.8 642.2L1047.9 635.3L1048 643.6L1048.2 567.1L1048.3 631.4L1048.4 601.9L1048.5 637.6L1048.6 622.7L1048.7 624.9L1048.7 515.8L1048.8 647.6L1049 610.3L1049.1 631.5L1049.3 612.2L1049.4 665.9L1049.6 602L1049.7 630.9L1050.2 563.8L1050.4 664.7L1050.8 582.5L1051 655.6L1051.1 628.4L1051.2 676.3L1051.3 584.3L1051.5 665.7L1051.8 530.5L1052 649L1052.2 517.5L1052.5 652.6L1052.6 578.9L1052.7 598.2L1052.9 571.4L1053.3 679.9L1053.4 636L1053.5 652.5L1053.8 506.9L1054 680.6L1054.1 606.7L1054.3 649.6L1054.7 557.4L1054.9 641.4L1055.1 545.9L1055.3 639.6L1055.5 589.7L1055.7 648.6L1055.9 584.4L1056.2 636.6L1056.3 567.6L1056.5 630.3L1056.7 627.5L1056.9 647.6L1057.3 598.6L1057.4 658.8L1057.5 657.9" stroke-width="1.45" stroke-linejoin="miter" stroke-miterlimit="3"/>
<path d="M96.4 3V690" stroke-width="2.2"/>
<path d="M130 3H136.7V606H126.3V330L127.5 62H130Z" fill="#000" stroke="none"/>
<path d="M133.4 482V606" stroke="#fff" stroke-width="0.9"/>
<path d="M131.7 607H135.8V689H131.7Z" fill="#fff" stroke="none"/>
<path d="M169.5 3V600M173 3V600" stroke-width="1.25"/><path d="M171.3 3V600M175 3V600" stroke-width="0.9"/>
<path d="M168.8 147H172.6V250H176.2V604H166V345L168.8 260Z" fill="#000" stroke="none"/>
<path d="M168.2 606H174.4V689H168.2Z" fill="#fff" stroke="none"/>
<path d="M207.8 15V600" stroke-width="1.3"/>
<path d="M207.2 150H209.6V259H212.4V603H206.8Z" fill="#000" stroke="none"/>
<path d="M209.4 604H212V689H209.4Z" fill="#fff" stroke="none"/>
<path d="M249.8 3V627" stroke-width="3.2"/>
<path d="M248.7 628H250.5V689H248.7Z" fill="#fff" stroke="none"/>
</g>
<g fill="none" stroke="#000" stroke-width="1.8" stroke-linecap="butt">
<path d="M138 252L283.8 216M175 286.5L285 224M212.5 311L292 232M252.5 322L295.5 237"/>
<path d="M449 345L322 533"/>
<path d="M525 458L990.8 455.8" stroke-width="1.6" stroke-dasharray="9.3 6.45"/>
<path d="M602 153.6H661" stroke-width="1.6" stroke-dasharray="9.6 6.6"/>
</g>
<g fill="none" stroke="#000" stroke-width="2.5">
<rect x="94.3" y="2.8" width="960.4" height="687.1"/>
<g stroke-linecap="round">
<path d="M153.26 689.9 v-6.5M153.26 2.8 v6.5"/>
<path d="M211.78 689.9 v-13.2M211.78 2.8 v13.2"/>
<path d="M270.29 689.9 v-6.5M270.29 2.8 v6.5"/>
<path d="M328.80 689.9 v-13.2M328.80 2.8 v13.2"/>
<path d="M387.31 689.9 v-6.5M387.31 2.8 v6.5"/>
<path d="M445.83 689.9 v-13.2M445.83 2.8 v13.2"/>
<path d="M504.34 689.9 v-6.5M504.34 2.8 v6.5"/>
<path d="M562.85 689.9 v-13.2M562.85 2.8 v13.2"/>
<path d="M621.36 689.9 v-6.5M621.36 2.8 v6.5"/>
<path d="M679.88 689.9 v-13.2M679.88 2.8 v13.2"/>
<path d="M738.39 689.9 v-6.5M738.39 2.8 v6.5"/>
<path d="M796.90 689.9 v-13.2M796.90 2.8 v13.2"/>
<path d="M855.41 689.9 v-6.5M855.41 2.8 v6.5"/>
<path d="M913.93 689.9 v-13.2M913.93 2.8 v13.2"/>
<path d="M972.44 689.9 v-6.5M972.44 2.8 v6.5"/>
<path d="M1030.95 689.9 v-13.2M1030.95 2.8 v13.2"/>
<path d="M94.3 637.01 h6.5M1054.7 637.01 h-6.5"/>
<path d="M94.3 584.17 h13.2M1054.7 584.17 h-13.2"/>
<path d="M94.3 531.33 h6.5M1054.7 531.33 h-6.5"/>
<path d="M94.3 478.49 h13.2M1054.7 478.49 h-13.2"/>
<path d="M94.3 425.65 h6.5M1054.7 425.65 h-6.5"/>
<path d="M94.3 372.81 h13.2M1054.7 372.81 h-13.2"/>
<path d="M94.3 319.97 h6.5M1054.7 319.97 h-6.5"/>
<path d="M94.3 267.13 h13.2M1054.7 267.13 h-13.2"/>
<path d="M94.3 214.29 h6.5M1054.7 214.29 h-6.5"/>
<path d="M94.3 161.45 h13.2M1054.7 161.45 h-13.2"/>
<path d="M94.3 108.61 h6.5M1054.7 108.61 h-6.5"/>
<path d="M94.3 55.77 h13.2M1054.7 55.77 h-13.2"/>
</g>
</g>
<g class="tk">
<text x="210.9" y="723.1" text-anchor="middle" textLength="33" lengthAdjust="spacingAndGlyphs">0.5</text>
<text x="327.9" y="723.1" text-anchor="middle" textLength="33" lengthAdjust="spacingAndGlyphs">1.0</text>
<text x="444.9" y="723.1" text-anchor="middle" textLength="33" lengthAdjust="spacingAndGlyphs">1.5</text>
<text x="562.0" y="723.1" text-anchor="middle" textLength="33" lengthAdjust="spacingAndGlyphs">2.0</text>
<text x="679.0" y="723.1" text-anchor="middle" textLength="33" lengthAdjust="spacingAndGlyphs">2.5</text>
<text x="796.0" y="723.1" text-anchor="middle" textLength="33" lengthAdjust="spacingAndGlyphs">3.0</text>
<text x="913.0" y="723.1" text-anchor="middle" textLength="33" lengthAdjust="spacingAndGlyphs">3.5</text>
<text x="1030.0" y="723.1" text-anchor="middle" textLength="33" lengthAdjust="spacingAndGlyphs">4.0</text>
<text x="79.6" y="697.6" text-anchor="end" textLength="12.4" lengthAdjust="spacingAndGlyphs">0</text>
<text x="79.6" y="591.9" text-anchor="end" textLength="12.4" lengthAdjust="spacingAndGlyphs">2</text>
<text x="79.6" y="486.2" text-anchor="end" textLength="12.4" lengthAdjust="spacingAndGlyphs">4</text>
<text x="79.6" y="380.5" text-anchor="end" textLength="12.4" lengthAdjust="spacingAndGlyphs">6</text>
<text x="79.6" y="274.8" text-anchor="end" textLength="12.4" lengthAdjust="spacingAndGlyphs">8</text>
<text x="79.6" y="169.1" text-anchor="end" textLength="25.6" lengthAdjust="spacingAndGlyphs">10</text>
<text x="79.6" y="63.5" text-anchor="end" textLength="25.6" lengthAdjust="spacingAndGlyphs">12</text>
</g>
<g class="b">
<text x="309" y="83" font-size="22" textLength="648" lengthAdjust="spacingAndGlyphs">4.0 V solar type star - 10 days of observation - duty cycle 80%</text>
<text class="ann" x="673.4" y="159.5" textLength="298" lengthAdjust="spacingAndGlyphs">detection limit (4<tspan font-weight="normal">σ</tspan>) at 4.20 [ppm]</text>
<text class="ann" x="296.5" y="219" textLength="162.5" lengthAdjust="spacingAndGlyphs">orbit modulations</text>
<text class="ann" x="397.5" y="327" textLength="162" lengthAdjust="spacingAndGlyphs">granulation noise</text>
<text class="ann" x="792.6" y="244.5" textLength="166.8" lengthAdjust="spacingAndGlyphs">solar type p-mode</text>
<text class="ann" x="823.6" y="270.6" textLength="105.2" lengthAdjust="spacingAndGlyphs">oscillations</text>
<text x="465.4" y="768.4" font-size="30.6" textLength="242" lengthAdjust="spacingAndGlyphs">frequency [mHz]</text>
<text transform="translate(22.1 536.2) rotate(-90)" font-size="30.6" textLength="338.6" lengthAdjust="spacingAndGlyphs">relative amplitue [ppm]</text>
</g>
</svg>
</body></html>
